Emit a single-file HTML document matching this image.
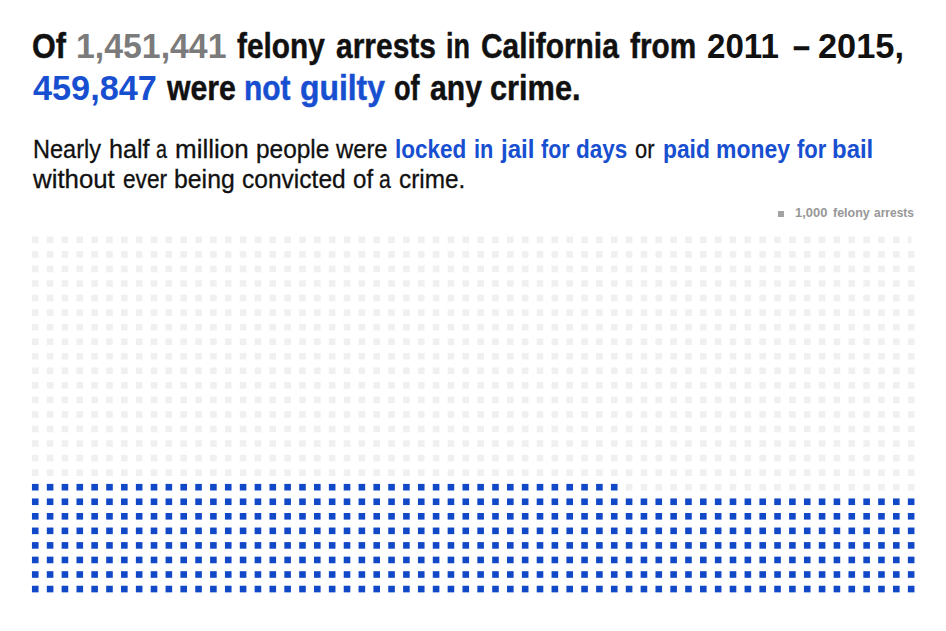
<!DOCTYPE html>
<html><head><meta charset="utf-8"><style>
html,body{margin:0;padding:0;background:#fff;}
body{width:946px;height:631px;position:relative;overflow:hidden;font-family:"Liberation Sans",sans-serif;}
.grid{position:absolute;left:0;top:0;}
span{position:absolute;white-space:nowrap;transform-origin:0 0;line-height:1;}
.h{font-weight:bold;font-size:33px;color:#111;}
.s{font-size:25px;color:#111;}
.g{color:#7c7c7c;}
.b{color:#1550cf;}
.sb{font-weight:bold;}
.leg{position:absolute;font-size:12px;font-weight:bold;color:#8a8a8a;white-space:nowrap;}
.sq{position:absolute;left:777.9px;top:210.6px;width:6.2px;height:6.2px;background:#a3a3a3;}
</style></head><body>
<svg class="grid" width="946" height="631" viewBox="0 0 946 631"><g fill="#f0f0f0"><rect x="31.95" y="236.55" width="6.60" height="6.60"/><rect x="46.80" y="236.55" width="6.60" height="6.60"/><rect x="61.64" y="236.55" width="6.60" height="6.60"/><rect x="76.49" y="236.55" width="6.60" height="6.60"/><rect x="91.33" y="236.55" width="6.60" height="6.60"/><rect x="106.18" y="236.55" width="6.60" height="6.60"/><rect x="121.03" y="236.55" width="6.60" height="6.60"/><rect x="135.87" y="236.55" width="6.60" height="6.60"/><rect x="150.72" y="236.55" width="6.60" height="6.60"/><rect x="165.56" y="236.55" width="6.60" height="6.60"/><rect x="180.41" y="236.55" width="6.60" height="6.60"/><rect x="195.26" y="236.55" width="6.60" height="6.60"/><rect x="210.10" y="236.55" width="6.60" height="6.60"/><rect x="224.95" y="236.55" width="6.60" height="6.60"/><rect x="239.79" y="236.55" width="6.60" height="6.60"/><rect x="254.64" y="236.55" width="6.60" height="6.60"/><rect x="269.49" y="236.55" width="6.60" height="6.60"/><rect x="284.33" y="236.55" width="6.60" height="6.60"/><rect x="299.18" y="236.55" width="6.60" height="6.60"/><rect x="314.02" y="236.55" width="6.60" height="6.60"/><rect x="328.87" y="236.55" width="6.60" height="6.60"/><rect x="343.72" y="236.55" width="6.60" height="6.60"/><rect x="358.56" y="236.55" width="6.60" height="6.60"/><rect x="373.41" y="236.55" width="6.60" height="6.60"/><rect x="388.25" y="236.55" width="6.60" height="6.60"/><rect x="403.10" y="236.55" width="6.60" height="6.60"/><rect x="417.95" y="236.55" width="6.60" height="6.60"/><rect x="432.79" y="236.55" width="6.60" height="6.60"/><rect x="447.64" y="236.55" width="6.60" height="6.60"/><rect x="462.48" y="236.55" width="6.60" height="6.60"/><rect x="477.33" y="236.55" width="6.60" height="6.60"/><rect x="492.18" y="236.55" width="6.60" height="6.60"/><rect x="507.02" y="236.55" width="6.60" height="6.60"/><rect x="521.87" y="236.55" width="6.60" height="6.60"/><rect x="536.71" y="236.55" width="6.60" height="6.60"/><rect x="551.56" y="236.55" width="6.60" height="6.60"/><rect x="566.41" y="236.55" width="6.60" height="6.60"/><rect x="581.25" y="236.55" width="6.60" height="6.60"/><rect x="596.10" y="236.55" width="6.60" height="6.60"/><rect x="610.94" y="236.55" width="6.60" height="6.60"/><rect x="625.79" y="236.55" width="6.60" height="6.60"/><rect x="640.64" y="236.55" width="6.60" height="6.60"/><rect x="655.48" y="236.55" width="6.60" height="6.60"/><rect x="670.33" y="236.55" width="6.60" height="6.60"/><rect x="685.17" y="236.55" width="6.60" height="6.60"/><rect x="700.02" y="236.55" width="6.60" height="6.60"/><rect x="714.87" y="236.55" width="6.60" height="6.60"/><rect x="729.71" y="236.55" width="6.60" height="6.60"/><rect x="744.56" y="236.55" width="6.60" height="6.60"/><rect x="759.40" y="236.55" width="6.60" height="6.60"/><rect x="774.25" y="236.55" width="6.60" height="6.60"/><rect x="789.10" y="236.55" width="6.60" height="6.60"/><rect x="803.94" y="236.55" width="6.60" height="6.60"/><rect x="818.79" y="236.55" width="6.60" height="6.60"/><rect x="833.63" y="236.55" width="6.60" height="6.60"/><rect x="848.48" y="236.55" width="6.60" height="6.60"/><rect x="863.33" y="236.55" width="6.60" height="6.60"/><rect x="878.17" y="236.55" width="6.60" height="6.60"/><rect x="893.02" y="236.55" width="6.60" height="6.60"/><rect x="907.86" y="236.55" width="3.63" height="6.60"/><rect x="31.95" y="251.10" width="6.60" height="6.60"/><rect x="46.80" y="251.10" width="6.60" height="6.60"/><rect x="61.64" y="251.10" width="6.60" height="6.60"/><rect x="76.49" y="251.10" width="6.60" height="6.60"/><rect x="91.33" y="251.10" width="6.60" height="6.60"/><rect x="106.18" y="251.10" width="6.60" height="6.60"/><rect x="121.03" y="251.10" width="6.60" height="6.60"/><rect x="135.87" y="251.10" width="6.60" height="6.60"/><rect x="150.72" y="251.10" width="6.60" height="6.60"/><rect x="165.56" y="251.10" width="6.60" height="6.60"/><rect x="180.41" y="251.10" width="6.60" height="6.60"/><rect x="195.26" y="251.10" width="6.60" height="6.60"/><rect x="210.10" y="251.10" width="6.60" height="6.60"/><rect x="224.95" y="251.10" width="6.60" height="6.60"/><rect x="239.79" y="251.10" width="6.60" height="6.60"/><rect x="254.64" y="251.10" width="6.60" height="6.60"/><rect x="269.49" y="251.10" width="6.60" height="6.60"/><rect x="284.33" y="251.10" width="6.60" height="6.60"/><rect x="299.18" y="251.10" width="6.60" height="6.60"/><rect x="314.02" y="251.10" width="6.60" height="6.60"/><rect x="328.87" y="251.10" width="6.60" height="6.60"/><rect x="343.72" y="251.10" width="6.60" height="6.60"/><rect x="358.56" y="251.10" width="6.60" height="6.60"/><rect x="373.41" y="251.10" width="6.60" height="6.60"/><rect x="388.25" y="251.10" width="6.60" height="6.60"/><rect x="403.10" y="251.10" width="6.60" height="6.60"/><rect x="417.95" y="251.10" width="6.60" height="6.60"/><rect x="432.79" y="251.10" width="6.60" height="6.60"/><rect x="447.64" y="251.10" width="6.60" height="6.60"/><rect x="462.48" y="251.10" width="6.60" height="6.60"/><rect x="477.33" y="251.10" width="6.60" height="6.60"/><rect x="492.18" y="251.10" width="6.60" height="6.60"/><rect x="507.02" y="251.10" width="6.60" height="6.60"/><rect x="521.87" y="251.10" width="6.60" height="6.60"/><rect x="536.71" y="251.10" width="6.60" height="6.60"/><rect x="551.56" y="251.10" width="6.60" height="6.60"/><rect x="566.41" y="251.10" width="6.60" height="6.60"/><rect x="581.25" y="251.10" width="6.60" height="6.60"/><rect x="596.10" y="251.10" width="6.60" height="6.60"/><rect x="610.94" y="251.10" width="6.60" height="6.60"/><rect x="625.79" y="251.10" width="6.60" height="6.60"/><rect x="640.64" y="251.10" width="6.60" height="6.60"/><rect x="655.48" y="251.10" width="6.60" height="6.60"/><rect x="670.33" y="251.10" width="6.60" height="6.60"/><rect x="685.17" y="251.10" width="6.60" height="6.60"/><rect x="700.02" y="251.10" width="6.60" height="6.60"/><rect x="714.87" y="251.10" width="6.60" height="6.60"/><rect x="729.71" y="251.10" width="6.60" height="6.60"/><rect x="744.56" y="251.10" width="6.60" height="6.60"/><rect x="759.40" y="251.10" width="6.60" height="6.60"/><rect x="774.25" y="251.10" width="6.60" height="6.60"/><rect x="789.10" y="251.10" width="6.60" height="6.60"/><rect x="803.94" y="251.10" width="6.60" height="6.60"/><rect x="818.79" y="251.10" width="6.60" height="6.60"/><rect x="833.63" y="251.10" width="6.60" height="6.60"/><rect x="848.48" y="251.10" width="6.60" height="6.60"/><rect x="863.33" y="251.10" width="6.60" height="6.60"/><rect x="878.17" y="251.10" width="6.60" height="6.60"/><rect x="893.02" y="251.10" width="6.60" height="6.60"/><rect x="907.86" y="251.10" width="6.60" height="6.60"/><rect x="31.95" y="265.65" width="6.60" height="6.60"/><rect x="46.80" y="265.65" width="6.60" height="6.60"/><rect x="61.64" y="265.65" width="6.60" height="6.60"/><rect x="76.49" y="265.65" width="6.60" height="6.60"/><rect x="91.33" y="265.65" width="6.60" height="6.60"/><rect x="106.18" y="265.65" width="6.60" height="6.60"/><rect x="121.03" y="265.65" width="6.60" height="6.60"/><rect x="135.87" y="265.65" width="6.60" height="6.60"/><rect x="150.72" y="265.65" width="6.60" height="6.60"/><rect x="165.56" y="265.65" width="6.60" height="6.60"/><rect x="180.41" y="265.65" width="6.60" height="6.60"/><rect x="195.26" y="265.65" width="6.60" height="6.60"/><rect x="210.10" y="265.65" width="6.60" height="6.60"/><rect x="224.95" y="265.65" width="6.60" height="6.60"/><rect x="239.79" y="265.65" width="6.60" height="6.60"/><rect x="254.64" y="265.65" width="6.60" height="6.60"/><rect x="269.49" y="265.65" width="6.60" height="6.60"/><rect x="284.33" y="265.65" width="6.60" height="6.60"/><rect x="299.18" y="265.65" width="6.60" height="6.60"/><rect x="314.02" y="265.65" width="6.60" height="6.60"/><rect x="328.87" y="265.65" width="6.60" height="6.60"/><rect x="343.72" y="265.65" width="6.60" height="6.60"/><rect x="358.56" y="265.65" width="6.60" height="6.60"/><rect x="373.41" y="265.65" width="6.60" height="6.60"/><rect x="388.25" y="265.65" width="6.60" height="6.60"/><rect x="403.10" y="265.65" width="6.60" height="6.60"/><rect x="417.95" y="265.65" width="6.60" height="6.60"/><rect x="432.79" y="265.65" width="6.60" height="6.60"/><rect x="447.64" y="265.65" width="6.60" height="6.60"/><rect x="462.48" y="265.65" width="6.60" height="6.60"/><rect x="477.33" y="265.65" width="6.60" height="6.60"/><rect x="492.18" y="265.65" width="6.60" height="6.60"/><rect x="507.02" y="265.65" width="6.60" height="6.60"/><rect x="521.87" y="265.65" width="6.60" height="6.60"/><rect x="536.71" y="265.65" width="6.60" height="6.60"/><rect x="551.56" y="265.65" width="6.60" height="6.60"/><rect x="566.41" y="265.65" width="6.60" height="6.60"/><rect x="581.25" y="265.65" width="6.60" height="6.60"/><rect x="596.10" y="265.65" width="6.60" height="6.60"/><rect x="610.94" y="265.65" width="6.60" height="6.60"/><rect x="625.79" y="265.65" width="6.60" height="6.60"/><rect x="640.64" y="265.65" width="6.60" height="6.60"/><rect x="655.48" y="265.65" width="6.60" height="6.60"/><rect x="670.33" y="265.65" width="6.60" height="6.60"/><rect x="685.17" y="265.65" width="6.60" height="6.60"/><rect x="700.02" y="265.65" width="6.60" height="6.60"/><rect x="714.87" y="265.65" width="6.60" height="6.60"/><rect x="729.71" y="265.65" width="6.60" height="6.60"/><rect x="744.56" y="265.65" width="6.60" height="6.60"/><rect x="759.40" y="265.65" width="6.60" height="6.60"/><rect x="774.25" y="265.65" width="6.60" height="6.60"/><rect x="789.10" y="265.65" width="6.60" height="6.60"/><rect x="803.94" y="265.65" width="6.60" height="6.60"/><rect x="818.79" y="265.65" width="6.60" height="6.60"/><rect x="833.63" y="265.65" width="6.60" height="6.60"/><rect x="848.48" y="265.65" width="6.60" height="6.60"/><rect x="863.33" y="265.65" width="6.60" height="6.60"/><rect x="878.17" y="265.65" width="6.60" height="6.60"/><rect x="893.02" y="265.65" width="6.60" height="6.60"/><rect x="907.86" y="265.65" width="6.60" height="6.60"/><rect x="31.95" y="280.20" width="6.60" height="6.60"/><rect x="46.80" y="280.20" width="6.60" height="6.60"/><rect x="61.64" y="280.20" width="6.60" height="6.60"/><rect x="76.49" y="280.20" width="6.60" height="6.60"/><rect x="91.33" y="280.20" width="6.60" height="6.60"/><rect x="106.18" y="280.20" width="6.60" height="6.60"/><rect x="121.03" y="280.20" width="6.60" height="6.60"/><rect x="135.87" y="280.20" width="6.60" height="6.60"/><rect x="150.72" y="280.20" width="6.60" height="6.60"/><rect x="165.56" y="280.20" width="6.60" height="6.60"/><rect x="180.41" y="280.20" width="6.60" height="6.60"/><rect x="195.26" y="280.20" width="6.60" height="6.60"/><rect x="210.10" y="280.20" width="6.60" height="6.60"/><rect x="224.95" y="280.20" width="6.60" height="6.60"/><rect x="239.79" y="280.20" width="6.60" height="6.60"/><rect x="254.64" y="280.20" width="6.60" height="6.60"/><rect x="269.49" y="280.20" width="6.60" height="6.60"/><rect x="284.33" y="280.20" width="6.60" height="6.60"/><rect x="299.18" y="280.20" width="6.60" height="6.60"/><rect x="314.02" y="280.20" width="6.60" height="6.60"/><rect x="328.87" y="280.20" width="6.60" height="6.60"/><rect x="343.72" y="280.20" width="6.60" height="6.60"/><rect x="358.56" y="280.20" width="6.60" height="6.60"/><rect x="373.41" y="280.20" width="6.60" height="6.60"/><rect x="388.25" y="280.20" width="6.60" height="6.60"/><rect x="403.10" y="280.20" width="6.60" height="6.60"/><rect x="417.95" y="280.20" width="6.60" height="6.60"/><rect x="432.79" y="280.20" width="6.60" height="6.60"/><rect x="447.64" y="280.20" width="6.60" height="6.60"/><rect x="462.48" y="280.20" width="6.60" height="6.60"/><rect x="477.33" y="280.20" width="6.60" height="6.60"/><rect x="492.18" y="280.20" width="6.60" height="6.60"/><rect x="507.02" y="280.20" width="6.60" height="6.60"/><rect x="521.87" y="280.20" width="6.60" height="6.60"/><rect x="536.71" y="280.20" width="6.60" height="6.60"/><rect x="551.56" y="280.20" width="6.60" height="6.60"/><rect x="566.41" y="280.20" width="6.60" height="6.60"/><rect x="581.25" y="280.20" width="6.60" height="6.60"/><rect x="596.10" y="280.20" width="6.60" height="6.60"/><rect x="610.94" y="280.20" width="6.60" height="6.60"/><rect x="625.79" y="280.20" width="6.60" height="6.60"/><rect x="640.64" y="280.20" width="6.60" height="6.60"/><rect x="655.48" y="280.20" width="6.60" height="6.60"/><rect x="670.33" y="280.20" width="6.60" height="6.60"/><rect x="685.17" y="280.20" width="6.60" height="6.60"/><rect x="700.02" y="280.20" width="6.60" height="6.60"/><rect x="714.87" y="280.20" width="6.60" height="6.60"/><rect x="729.71" y="280.20" width="6.60" height="6.60"/><rect x="744.56" y="280.20" width="6.60" height="6.60"/><rect x="759.40" y="280.20" width="6.60" height="6.60"/><rect x="774.25" y="280.20" width="6.60" height="6.60"/><rect x="789.10" y="280.20" width="6.60" height="6.60"/><rect x="803.94" y="280.20" width="6.60" height="6.60"/><rect x="818.79" y="280.20" width="6.60" height="6.60"/><rect x="833.63" y="280.20" width="6.60" height="6.60"/><rect x="848.48" y="280.20" width="6.60" height="6.60"/><rect x="863.33" y="280.20" width="6.60" height="6.60"/><rect x="878.17" y="280.20" width="6.60" height="6.60"/><rect x="893.02" y="280.20" width="6.60" height="6.60"/><rect x="907.86" y="280.20" width="6.60" height="6.60"/><rect x="31.95" y="294.75" width="6.60" height="6.60"/><rect x="46.80" y="294.75" width="6.60" height="6.60"/><rect x="61.64" y="294.75" width="6.60" height="6.60"/><rect x="76.49" y="294.75" width="6.60" height="6.60"/><rect x="91.33" y="294.75" width="6.60" height="6.60"/><rect x="106.18" y="294.75" width="6.60" height="6.60"/><rect x="121.03" y="294.75" width="6.60" height="6.60"/><rect x="135.87" y="294.75" width="6.60" height="6.60"/><rect x="150.72" y="294.75" width="6.60" height="6.60"/><rect x="165.56" y="294.75" width="6.60" height="6.60"/><rect x="180.41" y="294.75" width="6.60" height="6.60"/><rect x="195.26" y="294.75" width="6.60" height="6.60"/><rect x="210.10" y="294.75" width="6.60" height="6.60"/><rect x="224.95" y="294.75" width="6.60" height="6.60"/><rect x="239.79" y="294.75" width="6.60" height="6.60"/><rect x="254.64" y="294.75" width="6.60" height="6.60"/><rect x="269.49" y="294.75" width="6.60" height="6.60"/><rect x="284.33" y="294.75" width="6.60" height="6.60"/><rect x="299.18" y="294.75" width="6.60" height="6.60"/><rect x="314.02" y="294.75" width="6.60" height="6.60"/><rect x="328.87" y="294.75" width="6.60" height="6.60"/><rect x="343.72" y="294.75" width="6.60" height="6.60"/><rect x="358.56" y="294.75" width="6.60" height="6.60"/><rect x="373.41" y="294.75" width="6.60" height="6.60"/><rect x="388.25" y="294.75" width="6.60" height="6.60"/><rect x="403.10" y="294.75" width="6.60" height="6.60"/><rect x="417.95" y="294.75" width="6.60" height="6.60"/><rect x="432.79" y="294.75" width="6.60" height="6.60"/><rect x="447.64" y="294.75" width="6.60" height="6.60"/><rect x="462.48" y="294.75" width="6.60" height="6.60"/><rect x="477.33" y="294.75" width="6.60" height="6.60"/><rect x="492.18" y="294.75" width="6.60" height="6.60"/><rect x="507.02" y="294.75" width="6.60" height="6.60"/><rect x="521.87" y="294.75" width="6.60" height="6.60"/><rect x="536.71" y="294.75" width="6.60" height="6.60"/><rect x="551.56" y="294.75" width="6.60" height="6.60"/><rect x="566.41" y="294.75" width="6.60" height="6.60"/><rect x="581.25" y="294.75" width="6.60" height="6.60"/><rect x="596.10" y="294.75" width="6.60" height="6.60"/><rect x="610.94" y="294.75" width="6.60" height="6.60"/><rect x="625.79" y="294.75" width="6.60" height="6.60"/><rect x="640.64" y="294.75" width="6.60" height="6.60"/><rect x="655.48" y="294.75" width="6.60" height="6.60"/><rect x="670.33" y="294.75" width="6.60" height="6.60"/><rect x="685.17" y="294.75" width="6.60" height="6.60"/><rect x="700.02" y="294.75" width="6.60" height="6.60"/><rect x="714.87" y="294.75" width="6.60" height="6.60"/><rect x="729.71" y="294.75" width="6.60" height="6.60"/><rect x="744.56" y="294.75" width="6.60" height="6.60"/><rect x="759.40" y="294.75" width="6.60" height="6.60"/><rect x="774.25" y="294.75" width="6.60" height="6.60"/><rect x="789.10" y="294.75" width="6.60" height="6.60"/><rect x="803.94" y="294.75" width="6.60" height="6.60"/><rect x="818.79" y="294.75" width="6.60" height="6.60"/><rect x="833.63" y="294.75" width="6.60" height="6.60"/><rect x="848.48" y="294.75" width="6.60" height="6.60"/><rect x="863.33" y="294.75" width="6.60" height="6.60"/><rect x="878.17" y="294.75" width="6.60" height="6.60"/><rect x="893.02" y="294.75" width="6.60" height="6.60"/><rect x="907.86" y="294.75" width="6.60" height="6.60"/><rect x="31.95" y="309.30" width="6.60" height="6.60"/><rect x="46.80" y="309.30" width="6.60" height="6.60"/><rect x="61.64" y="309.30" width="6.60" height="6.60"/><rect x="76.49" y="309.30" width="6.60" height="6.60"/><rect x="91.33" y="309.30" width="6.60" height="6.60"/><rect x="106.18" y="309.30" width="6.60" height="6.60"/><rect x="121.03" y="309.30" width="6.60" height="6.60"/><rect x="135.87" y="309.30" width="6.60" height="6.60"/><rect x="150.72" y="309.30" width="6.60" height="6.60"/><rect x="165.56" y="309.30" width="6.60" height="6.60"/><rect x="180.41" y="309.30" width="6.60" height="6.60"/><rect x="195.26" y="309.30" width="6.60" height="6.60"/><rect x="210.10" y="309.30" width="6.60" height="6.60"/><rect x="224.95" y="309.30" width="6.60" height="6.60"/><rect x="239.79" y="309.30" width="6.60" height="6.60"/><rect x="254.64" y="309.30" width="6.60" height="6.60"/><rect x="269.49" y="309.30" width="6.60" height="6.60"/><rect x="284.33" y="309.30" width="6.60" height="6.60"/><rect x="299.18" y="309.30" width="6.60" height="6.60"/><rect x="314.02" y="309.30" width="6.60" height="6.60"/><rect x="328.87" y="309.30" width="6.60" height="6.60"/><rect x="343.72" y="309.30" width="6.60" height="6.60"/><rect x="358.56" y="309.30" width="6.60" height="6.60"/><rect x="373.41" y="309.30" width="6.60" height="6.60"/><rect x="388.25" y="309.30" width="6.60" height="6.60"/><rect x="403.10" y="309.30" width="6.60" height="6.60"/><rect x="417.95" y="309.30" width="6.60" height="6.60"/><rect x="432.79" y="309.30" width="6.60" height="6.60"/><rect x="447.64" y="309.30" width="6.60" height="6.60"/><rect x="462.48" y="309.30" width="6.60" height="6.60"/><rect x="477.33" y="309.30" width="6.60" height="6.60"/><rect x="492.18" y="309.30" width="6.60" height="6.60"/><rect x="507.02" y="309.30" width="6.60" height="6.60"/><rect x="521.87" y="309.30" width="6.60" height="6.60"/><rect x="536.71" y="309.30" width="6.60" height="6.60"/><rect x="551.56" y="309.30" width="6.60" height="6.60"/><rect x="566.41" y="309.30" width="6.60" height="6.60"/><rect x="581.25" y="309.30" width="6.60" height="6.60"/><rect x="596.10" y="309.30" width="6.60" height="6.60"/><rect x="610.94" y="309.30" width="6.60" height="6.60"/><rect x="625.79" y="309.30" width="6.60" height="6.60"/><rect x="640.64" y="309.30" width="6.60" height="6.60"/><rect x="655.48" y="309.30" width="6.60" height="6.60"/><rect x="670.33" y="309.30" width="6.60" height="6.60"/><rect x="685.17" y="309.30" width="6.60" height="6.60"/><rect x="700.02" y="309.30" width="6.60" height="6.60"/><rect x="714.87" y="309.30" width="6.60" height="6.60"/><rect x="729.71" y="309.30" width="6.60" height="6.60"/><rect x="744.56" y="309.30" width="6.60" height="6.60"/><rect x="759.40" y="309.30" width="6.60" height="6.60"/><rect x="774.25" y="309.30" width="6.60" height="6.60"/><rect x="789.10" y="309.30" width="6.60" height="6.60"/><rect x="803.94" y="309.30" width="6.60" height="6.60"/><rect x="818.79" y="309.30" width="6.60" height="6.60"/><rect x="833.63" y="309.30" width="6.60" height="6.60"/><rect x="848.48" y="309.30" width="6.60" height="6.60"/><rect x="863.33" y="309.30" width="6.60" height="6.60"/><rect x="878.17" y="309.30" width="6.60" height="6.60"/><rect x="893.02" y="309.30" width="6.60" height="6.60"/><rect x="907.86" y="309.30" width="6.60" height="6.60"/><rect x="31.95" y="323.85" width="6.60" height="6.60"/><rect x="46.80" y="323.85" width="6.60" height="6.60"/><rect x="61.64" y="323.85" width="6.60" height="6.60"/><rect x="76.49" y="323.85" width="6.60" height="6.60"/><rect x="91.33" y="323.85" width="6.60" height="6.60"/><rect x="106.18" y="323.85" width="6.60" height="6.60"/><rect x="121.03" y="323.85" width="6.60" height="6.60"/><rect x="135.87" y="323.85" width="6.60" height="6.60"/><rect x="150.72" y="323.85" width="6.60" height="6.60"/><rect x="165.56" y="323.85" width="6.60" height="6.60"/><rect x="180.41" y="323.85" width="6.60" height="6.60"/><rect x="195.26" y="323.85" width="6.60" height="6.60"/><rect x="210.10" y="323.85" width="6.60" height="6.60"/><rect x="224.95" y="323.85" width="6.60" height="6.60"/><rect x="239.79" y="323.85" width="6.60" height="6.60"/><rect x="254.64" y="323.85" width="6.60" height="6.60"/><rect x="269.49" y="323.85" width="6.60" height="6.60"/><rect x="284.33" y="323.85" width="6.60" height="6.60"/><rect x="299.18" y="323.85" width="6.60" height="6.60"/><rect x="314.02" y="323.85" width="6.60" height="6.60"/><rect x="328.87" y="323.85" width="6.60" height="6.60"/><rect x="343.72" y="323.85" width="6.60" height="6.60"/><rect x="358.56" y="323.85" width="6.60" height="6.60"/><rect x="373.41" y="323.85" width="6.60" height="6.60"/><rect x="388.25" y="323.85" width="6.60" height="6.60"/><rect x="403.10" y="323.85" width="6.60" height="6.60"/><rect x="417.95" y="323.85" width="6.60" height="6.60"/><rect x="432.79" y="323.85" width="6.60" height="6.60"/><rect x="447.64" y="323.85" width="6.60" height="6.60"/><rect x="462.48" y="323.85" width="6.60" height="6.60"/><rect x="477.33" y="323.85" width="6.60" height="6.60"/><rect x="492.18" y="323.85" width="6.60" height="6.60"/><rect x="507.02" y="323.85" width="6.60" height="6.60"/><rect x="521.87" y="323.85" width="6.60" height="6.60"/><rect x="536.71" y="323.85" width="6.60" height="6.60"/><rect x="551.56" y="323.85" width="6.60" height="6.60"/><rect x="566.41" y="323.85" width="6.60" height="6.60"/><rect x="581.25" y="323.85" width="6.60" height="6.60"/><rect x="596.10" y="323.85" width="6.60" height="6.60"/><rect x="610.94" y="323.85" width="6.60" height="6.60"/><rect x="625.79" y="323.85" width="6.60" height="6.60"/><rect x="640.64" y="323.85" width="6.60" height="6.60"/><rect x="655.48" y="323.85" width="6.60" height="6.60"/><rect x="670.33" y="323.85" width="6.60" height="6.60"/><rect x="685.17" y="323.85" width="6.60" height="6.60"/><rect x="700.02" y="323.85" width="6.60" height="6.60"/><rect x="714.87" y="323.85" width="6.60" height="6.60"/><rect x="729.71" y="323.85" width="6.60" height="6.60"/><rect x="744.56" y="323.85" width="6.60" height="6.60"/><rect x="759.40" y="323.85" width="6.60" height="6.60"/><rect x="774.25" y="323.85" width="6.60" height="6.60"/><rect x="789.10" y="323.85" width="6.60" height="6.60"/><rect x="803.94" y="323.85" width="6.60" height="6.60"/><rect x="818.79" y="323.85" width="6.60" height="6.60"/><rect x="833.63" y="323.85" width="6.60" height="6.60"/><rect x="848.48" y="323.85" width="6.60" height="6.60"/><rect x="863.33" y="323.85" width="6.60" height="6.60"/><rect x="878.17" y="323.85" width="6.60" height="6.60"/><rect x="893.02" y="323.85" width="6.60" height="6.60"/><rect x="907.86" y="323.85" width="6.60" height="6.60"/><rect x="31.95" y="338.40" width="6.60" height="6.60"/><rect x="46.80" y="338.40" width="6.60" height="6.60"/><rect x="61.64" y="338.40" width="6.60" height="6.60"/><rect x="76.49" y="338.40" width="6.60" height="6.60"/><rect x="91.33" y="338.40" width="6.60" height="6.60"/><rect x="106.18" y="338.40" width="6.60" height="6.60"/><rect x="121.03" y="338.40" width="6.60" height="6.60"/><rect x="135.87" y="338.40" width="6.60" height="6.60"/><rect x="150.72" y="338.40" width="6.60" height="6.60"/><rect x="165.56" y="338.40" width="6.60" height="6.60"/><rect x="180.41" y="338.40" width="6.60" height="6.60"/><rect x="195.26" y="338.40" width="6.60" height="6.60"/><rect x="210.10" y="338.40" width="6.60" height="6.60"/><rect x="224.95" y="338.40" width="6.60" height="6.60"/><rect x="239.79" y="338.40" width="6.60" height="6.60"/><rect x="254.64" y="338.40" width="6.60" height="6.60"/><rect x="269.49" y="338.40" width="6.60" height="6.60"/><rect x="284.33" y="338.40" width="6.60" height="6.60"/><rect x="299.18" y="338.40" width="6.60" height="6.60"/><rect x="314.02" y="338.40" width="6.60" height="6.60"/><rect x="328.87" y="338.40" width="6.60" height="6.60"/><rect x="343.72" y="338.40" width="6.60" height="6.60"/><rect x="358.56" y="338.40" width="6.60" height="6.60"/><rect x="373.41" y="338.40" width="6.60" height="6.60"/><rect x="388.25" y="338.40" width="6.60" height="6.60"/><rect x="403.10" y="338.40" width="6.60" height="6.60"/><rect x="417.95" y="338.40" width="6.60" height="6.60"/><rect x="432.79" y="338.40" width="6.60" height="6.60"/><rect x="447.64" y="338.40" width="6.60" height="6.60"/><rect x="462.48" y="338.40" width="6.60" height="6.60"/><rect x="477.33" y="338.40" width="6.60" height="6.60"/><rect x="492.18" y="338.40" width="6.60" height="6.60"/><rect x="507.02" y="338.40" width="6.60" height="6.60"/><rect x="521.87" y="338.40" width="6.60" height="6.60"/><rect x="536.71" y="338.40" width="6.60" height="6.60"/><rect x="551.56" y="338.40" width="6.60" height="6.60"/><rect x="566.41" y="338.40" width="6.60" height="6.60"/><rect x="581.25" y="338.40" width="6.60" height="6.60"/><rect x="596.10" y="338.40" width="6.60" height="6.60"/><rect x="610.94" y="338.40" width="6.60" height="6.60"/><rect x="625.79" y="338.40" width="6.60" height="6.60"/><rect x="640.64" y="338.40" width="6.60" height="6.60"/><rect x="655.48" y="338.40" width="6.60" height="6.60"/><rect x="670.33" y="338.40" width="6.60" height="6.60"/><rect x="685.17" y="338.40" width="6.60" height="6.60"/><rect x="700.02" y="338.40" width="6.60" height="6.60"/><rect x="714.87" y="338.40" width="6.60" height="6.60"/><rect x="729.71" y="338.40" width="6.60" height="6.60"/><rect x="744.56" y="338.40" width="6.60" height="6.60"/><rect x="759.40" y="338.40" width="6.60" height="6.60"/><rect x="774.25" y="338.40" width="6.60" height="6.60"/><rect x="789.10" y="338.40" width="6.60" height="6.60"/><rect x="803.94" y="338.40" width="6.60" height="6.60"/><rect x="818.79" y="338.40" width="6.60" height="6.60"/><rect x="833.63" y="338.40" width="6.60" height="6.60"/><rect x="848.48" y="338.40" width="6.60" height="6.60"/><rect x="863.33" y="338.40" width="6.60" height="6.60"/><rect x="878.17" y="338.40" width="6.60" height="6.60"/><rect x="893.02" y="338.40" width="6.60" height="6.60"/><rect x="907.86" y="338.40" width="6.60" height="6.60"/><rect x="31.95" y="352.95" width="6.60" height="6.60"/><rect x="46.80" y="352.95" width="6.60" height="6.60"/><rect x="61.64" y="352.95" width="6.60" height="6.60"/><rect x="76.49" y="352.95" width="6.60" height="6.60"/><rect x="91.33" y="352.95" width="6.60" height="6.60"/><rect x="106.18" y="352.95" width="6.60" height="6.60"/><rect x="121.03" y="352.95" width="6.60" height="6.60"/><rect x="135.87" y="352.95" width="6.60" height="6.60"/><rect x="150.72" y="352.95" width="6.60" height="6.60"/><rect x="165.56" y="352.95" width="6.60" height="6.60"/><rect x="180.41" y="352.95" width="6.60" height="6.60"/><rect x="195.26" y="352.95" width="6.60" height="6.60"/><rect x="210.10" y="352.95" width="6.60" height="6.60"/><rect x="224.95" y="352.95" width="6.60" height="6.60"/><rect x="239.79" y="352.95" width="6.60" height="6.60"/><rect x="254.64" y="352.95" width="6.60" height="6.60"/><rect x="269.49" y="352.95" width="6.60" height="6.60"/><rect x="284.33" y="352.95" width="6.60" height="6.60"/><rect x="299.18" y="352.95" width="6.60" height="6.60"/><rect x="314.02" y="352.95" width="6.60" height="6.60"/><rect x="328.87" y="352.95" width="6.60" height="6.60"/><rect x="343.72" y="352.95" width="6.60" height="6.60"/><rect x="358.56" y="352.95" width="6.60" height="6.60"/><rect x="373.41" y="352.95" width="6.60" height="6.60"/><rect x="388.25" y="352.95" width="6.60" height="6.60"/><rect x="403.10" y="352.95" width="6.60" height="6.60"/><rect x="417.95" y="352.95" width="6.60" height="6.60"/><rect x="432.79" y="352.95" width="6.60" height="6.60"/><rect x="447.64" y="352.95" width="6.60" height="6.60"/><rect x="462.48" y="352.95" width="6.60" height="6.60"/><rect x="477.33" y="352.95" width="6.60" height="6.60"/><rect x="492.18" y="352.95" width="6.60" height="6.60"/><rect x="507.02" y="352.95" width="6.60" height="6.60"/><rect x="521.87" y="352.95" width="6.60" height="6.60"/><rect x="536.71" y="352.95" width="6.60" height="6.60"/><rect x="551.56" y="352.95" width="6.60" height="6.60"/><rect x="566.41" y="352.95" width="6.60" height="6.60"/><rect x="581.25" y="352.95" width="6.60" height="6.60"/><rect x="596.10" y="352.95" width="6.60" height="6.60"/><rect x="610.94" y="352.95" width="6.60" height="6.60"/><rect x="625.79" y="352.95" width="6.60" height="6.60"/><rect x="640.64" y="352.95" width="6.60" height="6.60"/><rect x="655.48" y="352.95" width="6.60" height="6.60"/><rect x="670.33" y="352.95" width="6.60" height="6.60"/><rect x="685.17" y="352.95" width="6.60" height="6.60"/><rect x="700.02" y="352.95" width="6.60" height="6.60"/><rect x="714.87" y="352.95" width="6.60" height="6.60"/><rect x="729.71" y="352.95" width="6.60" height="6.60"/><rect x="744.56" y="352.95" width="6.60" height="6.60"/><rect x="759.40" y="352.95" width="6.60" height="6.60"/><rect x="774.25" y="352.95" width="6.60" height="6.60"/><rect x="789.10" y="352.95" width="6.60" height="6.60"/><rect x="803.94" y="352.95" width="6.60" height="6.60"/><rect x="818.79" y="352.95" width="6.60" height="6.60"/><rect x="833.63" y="352.95" width="6.60" height="6.60"/><rect x="848.48" y="352.95" width="6.60" height="6.60"/><rect x="863.33" y="352.95" width="6.60" height="6.60"/><rect x="878.17" y="352.95" width="6.60" height="6.60"/><rect x="893.02" y="352.95" width="6.60" height="6.60"/><rect x="907.86" y="352.95" width="6.60" height="6.60"/><rect x="31.95" y="367.50" width="6.60" height="6.60"/><rect x="46.80" y="367.50" width="6.60" height="6.60"/><rect x="61.64" y="367.50" width="6.60" height="6.60"/><rect x="76.49" y="367.50" width="6.60" height="6.60"/><rect x="91.33" y="367.50" width="6.60" height="6.60"/><rect x="106.18" y="367.50" width="6.60" height="6.60"/><rect x="121.03" y="367.50" width="6.60" height="6.60"/><rect x="135.87" y="367.50" width="6.60" height="6.60"/><rect x="150.72" y="367.50" width="6.60" height="6.60"/><rect x="165.56" y="367.50" width="6.60" height="6.60"/><rect x="180.41" y="367.50" width="6.60" height="6.60"/><rect x="195.26" y="367.50" width="6.60" height="6.60"/><rect x="210.10" y="367.50" width="6.60" height="6.60"/><rect x="224.95" y="367.50" width="6.60" height="6.60"/><rect x="239.79" y="367.50" width="6.60" height="6.60"/><rect x="254.64" y="367.50" width="6.60" height="6.60"/><rect x="269.49" y="367.50" width="6.60" height="6.60"/><rect x="284.33" y="367.50" width="6.60" height="6.60"/><rect x="299.18" y="367.50" width="6.60" height="6.60"/><rect x="314.02" y="367.50" width="6.60" height="6.60"/><rect x="328.87" y="367.50" width="6.60" height="6.60"/><rect x="343.72" y="367.50" width="6.60" height="6.60"/><rect x="358.56" y="367.50" width="6.60" height="6.60"/><rect x="373.41" y="367.50" width="6.60" height="6.60"/><rect x="388.25" y="367.50" width="6.60" height="6.60"/><rect x="403.10" y="367.50" width="6.60" height="6.60"/><rect x="417.95" y="367.50" width="6.60" height="6.60"/><rect x="432.79" y="367.50" width="6.60" height="6.60"/><rect x="447.64" y="367.50" width="6.60" height="6.60"/><rect x="462.48" y="367.50" width="6.60" height="6.60"/><rect x="477.33" y="367.50" width="6.60" height="6.60"/><rect x="492.18" y="367.50" width="6.60" height="6.60"/><rect x="507.02" y="367.50" width="6.60" height="6.60"/><rect x="521.87" y="367.50" width="6.60" height="6.60"/><rect x="536.71" y="367.50" width="6.60" height="6.60"/><rect x="551.56" y="367.50" width="6.60" height="6.60"/><rect x="566.41" y="367.50" width="6.60" height="6.60"/><rect x="581.25" y="367.50" width="6.60" height="6.60"/><rect x="596.10" y="367.50" width="6.60" height="6.60"/><rect x="610.94" y="367.50" width="6.60" height="6.60"/><rect x="625.79" y="367.50" width="6.60" height="6.60"/><rect x="640.64" y="367.50" width="6.60" height="6.60"/><rect x="655.48" y="367.50" width="6.60" height="6.60"/><rect x="670.33" y="367.50" width="6.60" height="6.60"/><rect x="685.17" y="367.50" width="6.60" height="6.60"/><rect x="700.02" y="367.50" width="6.60" height="6.60"/><rect x="714.87" y="367.50" width="6.60" height="6.60"/><rect x="729.71" y="367.50" width="6.60" height="6.60"/><rect x="744.56" y="367.50" width="6.60" height="6.60"/><rect x="759.40" y="367.50" width="6.60" height="6.60"/><rect x="774.25" y="367.50" width="6.60" height="6.60"/><rect x="789.10" y="367.50" width="6.60" height="6.60"/><rect x="803.94" y="367.50" width="6.60" height="6.60"/><rect x="818.79" y="367.50" width="6.60" height="6.60"/><rect x="833.63" y="367.50" width="6.60" height="6.60"/><rect x="848.48" y="367.50" width="6.60" height="6.60"/><rect x="863.33" y="367.50" width="6.60" height="6.60"/><rect x="878.17" y="367.50" width="6.60" height="6.60"/><rect x="893.02" y="367.50" width="6.60" height="6.60"/><rect x="907.86" y="367.50" width="6.60" height="6.60"/><rect x="31.95" y="382.05" width="6.60" height="6.60"/><rect x="46.80" y="382.05" width="6.60" height="6.60"/><rect x="61.64" y="382.05" width="6.60" height="6.60"/><rect x="76.49" y="382.05" width="6.60" height="6.60"/><rect x="91.33" y="382.05" width="6.60" height="6.60"/><rect x="106.18" y="382.05" width="6.60" height="6.60"/><rect x="121.03" y="382.05" width="6.60" height="6.60"/><rect x="135.87" y="382.05" width="6.60" height="6.60"/><rect x="150.72" y="382.05" width="6.60" height="6.60"/><rect x="165.56" y="382.05" width="6.60" height="6.60"/><rect x="180.41" y="382.05" width="6.60" height="6.60"/><rect x="195.26" y="382.05" width="6.60" height="6.60"/><rect x="210.10" y="382.05" width="6.60" height="6.60"/><rect x="224.95" y="382.05" width="6.60" height="6.60"/><rect x="239.79" y="382.05" width="6.60" height="6.60"/><rect x="254.64" y="382.05" width="6.60" height="6.60"/><rect x="269.49" y="382.05" width="6.60" height="6.60"/><rect x="284.33" y="382.05" width="6.60" height="6.60"/><rect x="299.18" y="382.05" width="6.60" height="6.60"/><rect x="314.02" y="382.05" width="6.60" height="6.60"/><rect x="328.87" y="382.05" width="6.60" height="6.60"/><rect x="343.72" y="382.05" width="6.60" height="6.60"/><rect x="358.56" y="382.05" width="6.60" height="6.60"/><rect x="373.41" y="382.05" width="6.60" height="6.60"/><rect x="388.25" y="382.05" width="6.60" height="6.60"/><rect x="403.10" y="382.05" width="6.60" height="6.60"/><rect x="417.95" y="382.05" width="6.60" height="6.60"/><rect x="432.79" y="382.05" width="6.60" height="6.60"/><rect x="447.64" y="382.05" width="6.60" height="6.60"/><rect x="462.48" y="382.05" width="6.60" height="6.60"/><rect x="477.33" y="382.05" width="6.60" height="6.60"/><rect x="492.18" y="382.05" width="6.60" height="6.60"/><rect x="507.02" y="382.05" width="6.60" height="6.60"/><rect x="521.87" y="382.05" width="6.60" height="6.60"/><rect x="536.71" y="382.05" width="6.60" height="6.60"/><rect x="551.56" y="382.05" width="6.60" height="6.60"/><rect x="566.41" y="382.05" width="6.60" height="6.60"/><rect x="581.25" y="382.05" width="6.60" height="6.60"/><rect x="596.10" y="382.05" width="6.60" height="6.60"/><rect x="610.94" y="382.05" width="6.60" height="6.60"/><rect x="625.79" y="382.05" width="6.60" height="6.60"/><rect x="640.64" y="382.05" width="6.60" height="6.60"/><rect x="655.48" y="382.05" width="6.60" height="6.60"/><rect x="670.33" y="382.05" width="6.60" height="6.60"/><rect x="685.17" y="382.05" width="6.60" height="6.60"/><rect x="700.02" y="382.05" width="6.60" height="6.60"/><rect x="714.87" y="382.05" width="6.60" height="6.60"/><rect x="729.71" y="382.05" width="6.60" height="6.60"/><rect x="744.56" y="382.05" width="6.60" height="6.60"/><rect x="759.40" y="382.05" width="6.60" height="6.60"/><rect x="774.25" y="382.05" width="6.60" height="6.60"/><rect x="789.10" y="382.05" width="6.60" height="6.60"/><rect x="803.94" y="382.05" width="6.60" height="6.60"/><rect x="818.79" y="382.05" width="6.60" height="6.60"/><rect x="833.63" y="382.05" width="6.60" height="6.60"/><rect x="848.48" y="382.05" width="6.60" height="6.60"/><rect x="863.33" y="382.05" width="6.60" height="6.60"/><rect x="878.17" y="382.05" width="6.60" height="6.60"/><rect x="893.02" y="382.05" width="6.60" height="6.60"/><rect x="907.86" y="382.05" width="6.60" height="6.60"/><rect x="31.95" y="396.60" width="6.60" height="6.60"/><rect x="46.80" y="396.60" width="6.60" height="6.60"/><rect x="61.64" y="396.60" width="6.60" height="6.60"/><rect x="76.49" y="396.60" width="6.60" height="6.60"/><rect x="91.33" y="396.60" width="6.60" height="6.60"/><rect x="106.18" y="396.60" width="6.60" height="6.60"/><rect x="121.03" y="396.60" width="6.60" height="6.60"/><rect x="135.87" y="396.60" width="6.60" height="6.60"/><rect x="150.72" y="396.60" width="6.60" height="6.60"/><rect x="165.56" y="396.60" width="6.60" height="6.60"/><rect x="180.41" y="396.60" width="6.60" height="6.60"/><rect x="195.26" y="396.60" width="6.60" height="6.60"/><rect x="210.10" y="396.60" width="6.60" height="6.60"/><rect x="224.95" y="396.60" width="6.60" height="6.60"/><rect x="239.79" y="396.60" width="6.60" height="6.60"/><rect x="254.64" y="396.60" width="6.60" height="6.60"/><rect x="269.49" y="396.60" width="6.60" height="6.60"/><rect x="284.33" y="396.60" width="6.60" height="6.60"/><rect x="299.18" y="396.60" width="6.60" height="6.60"/><rect x="314.02" y="396.60" width="6.60" height="6.60"/><rect x="328.87" y="396.60" width="6.60" height="6.60"/><rect x="343.72" y="396.60" width="6.60" height="6.60"/><rect x="358.56" y="396.60" width="6.60" height="6.60"/><rect x="373.41" y="396.60" width="6.60" height="6.60"/><rect x="388.25" y="396.60" width="6.60" height="6.60"/><rect x="403.10" y="396.60" width="6.60" height="6.60"/><rect x="417.95" y="396.60" width="6.60" height="6.60"/><rect x="432.79" y="396.60" width="6.60" height="6.60"/><rect x="447.64" y="396.60" width="6.60" height="6.60"/><rect x="462.48" y="396.60" width="6.60" height="6.60"/><rect x="477.33" y="396.60" width="6.60" height="6.60"/><rect x="492.18" y="396.60" width="6.60" height="6.60"/><rect x="507.02" y="396.60" width="6.60" height="6.60"/><rect x="521.87" y="396.60" width="6.60" height="6.60"/><rect x="536.71" y="396.60" width="6.60" height="6.60"/><rect x="551.56" y="396.60" width="6.60" height="6.60"/><rect x="566.41" y="396.60" width="6.60" height="6.60"/><rect x="581.25" y="396.60" width="6.60" height="6.60"/><rect x="596.10" y="396.60" width="6.60" height="6.60"/><rect x="610.94" y="396.60" width="6.60" height="6.60"/><rect x="625.79" y="396.60" width="6.60" height="6.60"/><rect x="640.64" y="396.60" width="6.60" height="6.60"/><rect x="655.48" y="396.60" width="6.60" height="6.60"/><rect x="670.33" y="396.60" width="6.60" height="6.60"/><rect x="685.17" y="396.60" width="6.60" height="6.60"/><rect x="700.02" y="396.60" width="6.60" height="6.60"/><rect x="714.87" y="396.60" width="6.60" height="6.60"/><rect x="729.71" y="396.60" width="6.60" height="6.60"/><rect x="744.56" y="396.60" width="6.60" height="6.60"/><rect x="759.40" y="396.60" width="6.60" height="6.60"/><rect x="774.25" y="396.60" width="6.60" height="6.60"/><rect x="789.10" y="396.60" width="6.60" height="6.60"/><rect x="803.94" y="396.60" width="6.60" height="6.60"/><rect x="818.79" y="396.60" width="6.60" height="6.60"/><rect x="833.63" y="396.60" width="6.60" height="6.60"/><rect x="848.48" y="396.60" width="6.60" height="6.60"/><rect x="863.33" y="396.60" width="6.60" height="6.60"/><rect x="878.17" y="396.60" width="6.60" height="6.60"/><rect x="893.02" y="396.60" width="6.60" height="6.60"/><rect x="907.86" y="396.60" width="6.60" height="6.60"/><rect x="31.95" y="411.15" width="6.60" height="6.60"/><rect x="46.80" y="411.15" width="6.60" height="6.60"/><rect x="61.64" y="411.15" width="6.60" height="6.60"/><rect x="76.49" y="411.15" width="6.60" height="6.60"/><rect x="91.33" y="411.15" width="6.60" height="6.60"/><rect x="106.18" y="411.15" width="6.60" height="6.60"/><rect x="121.03" y="411.15" width="6.60" height="6.60"/><rect x="135.87" y="411.15" width="6.60" height="6.60"/><rect x="150.72" y="411.15" width="6.60" height="6.60"/><rect x="165.56" y="411.15" width="6.60" height="6.60"/><rect x="180.41" y="411.15" width="6.60" height="6.60"/><rect x="195.26" y="411.15" width="6.60" height="6.60"/><rect x="210.10" y="411.15" width="6.60" height="6.60"/><rect x="224.95" y="411.15" width="6.60" height="6.60"/><rect x="239.79" y="411.15" width="6.60" height="6.60"/><rect x="254.64" y="411.15" width="6.60" height="6.60"/><rect x="269.49" y="411.15" width="6.60" height="6.60"/><rect x="284.33" y="411.15" width="6.60" height="6.60"/><rect x="299.18" y="411.15" width="6.60" height="6.60"/><rect x="314.02" y="411.15" width="6.60" height="6.60"/><rect x="328.87" y="411.15" width="6.60" height="6.60"/><rect x="343.72" y="411.15" width="6.60" height="6.60"/><rect x="358.56" y="411.15" width="6.60" height="6.60"/><rect x="373.41" y="411.15" width="6.60" height="6.60"/><rect x="388.25" y="411.15" width="6.60" height="6.60"/><rect x="403.10" y="411.15" width="6.60" height="6.60"/><rect x="417.95" y="411.15" width="6.60" height="6.60"/><rect x="432.79" y="411.15" width="6.60" height="6.60"/><rect x="447.64" y="411.15" width="6.60" height="6.60"/><rect x="462.48" y="411.15" width="6.60" height="6.60"/><rect x="477.33" y="411.15" width="6.60" height="6.60"/><rect x="492.18" y="411.15" width="6.60" height="6.60"/><rect x="507.02" y="411.15" width="6.60" height="6.60"/><rect x="521.87" y="411.15" width="6.60" height="6.60"/><rect x="536.71" y="411.15" width="6.60" height="6.60"/><rect x="551.56" y="411.15" width="6.60" height="6.60"/><rect x="566.41" y="411.15" width="6.60" height="6.60"/><rect x="581.25" y="411.15" width="6.60" height="6.60"/><rect x="596.10" y="411.15" width="6.60" height="6.60"/><rect x="610.94" y="411.15" width="6.60" height="6.60"/><rect x="625.79" y="411.15" width="6.60" height="6.60"/><rect x="640.64" y="411.15" width="6.60" height="6.60"/><rect x="655.48" y="411.15" width="6.60" height="6.60"/><rect x="670.33" y="411.15" width="6.60" height="6.60"/><rect x="685.17" y="411.15" width="6.60" height="6.60"/><rect x="700.02" y="411.15" width="6.60" height="6.60"/><rect x="714.87" y="411.15" width="6.60" height="6.60"/><rect x="729.71" y="411.15" width="6.60" height="6.60"/><rect x="744.56" y="411.15" width="6.60" height="6.60"/><rect x="759.40" y="411.15" width="6.60" height="6.60"/><rect x="774.25" y="411.15" width="6.60" height="6.60"/><rect x="789.10" y="411.15" width="6.60" height="6.60"/><rect x="803.94" y="411.15" width="6.60" height="6.60"/><rect x="818.79" y="411.15" width="6.60" height="6.60"/><rect x="833.63" y="411.15" width="6.60" height="6.60"/><rect x="848.48" y="411.15" width="6.60" height="6.60"/><rect x="863.33" y="411.15" width="6.60" height="6.60"/><rect x="878.17" y="411.15" width="6.60" height="6.60"/><rect x="893.02" y="411.15" width="6.60" height="6.60"/><rect x="907.86" y="411.15" width="6.60" height="6.60"/><rect x="31.95" y="425.70" width="6.60" height="6.60"/><rect x="46.80" y="425.70" width="6.60" height="6.60"/><rect x="61.64" y="425.70" width="6.60" height="6.60"/><rect x="76.49" y="425.70" width="6.60" height="6.60"/><rect x="91.33" y="425.70" width="6.60" height="6.60"/><rect x="106.18" y="425.70" width="6.60" height="6.60"/><rect x="121.03" y="425.70" width="6.60" height="6.60"/><rect x="135.87" y="425.70" width="6.60" height="6.60"/><rect x="150.72" y="425.70" width="6.60" height="6.60"/><rect x="165.56" y="425.70" width="6.60" height="6.60"/><rect x="180.41" y="425.70" width="6.60" height="6.60"/><rect x="195.26" y="425.70" width="6.60" height="6.60"/><rect x="210.10" y="425.70" width="6.60" height="6.60"/><rect x="224.95" y="425.70" width="6.60" height="6.60"/><rect x="239.79" y="425.70" width="6.60" height="6.60"/><rect x="254.64" y="425.70" width="6.60" height="6.60"/><rect x="269.49" y="425.70" width="6.60" height="6.60"/><rect x="284.33" y="425.70" width="6.60" height="6.60"/><rect x="299.18" y="425.70" width="6.60" height="6.60"/><rect x="314.02" y="425.70" width="6.60" height="6.60"/><rect x="328.87" y="425.70" width="6.60" height="6.60"/><rect x="343.72" y="425.70" width="6.60" height="6.60"/><rect x="358.56" y="425.70" width="6.60" height="6.60"/><rect x="373.41" y="425.70" width="6.60" height="6.60"/><rect x="388.25" y="425.70" width="6.60" height="6.60"/><rect x="403.10" y="425.70" width="6.60" height="6.60"/><rect x="417.95" y="425.70" width="6.60" height="6.60"/><rect x="432.79" y="425.70" width="6.60" height="6.60"/><rect x="447.64" y="425.70" width="6.60" height="6.60"/><rect x="462.48" y="425.70" width="6.60" height="6.60"/><rect x="477.33" y="425.70" width="6.60" height="6.60"/><rect x="492.18" y="425.70" width="6.60" height="6.60"/><rect x="507.02" y="425.70" width="6.60" height="6.60"/><rect x="521.87" y="425.70" width="6.60" height="6.60"/><rect x="536.71" y="425.70" width="6.60" height="6.60"/><rect x="551.56" y="425.70" width="6.60" height="6.60"/><rect x="566.41" y="425.70" width="6.60" height="6.60"/><rect x="581.25" y="425.70" width="6.60" height="6.60"/><rect x="596.10" y="425.70" width="6.60" height="6.60"/><rect x="610.94" y="425.70" width="6.60" height="6.60"/><rect x="625.79" y="425.70" width="6.60" height="6.60"/><rect x="640.64" y="425.70" width="6.60" height="6.60"/><rect x="655.48" y="425.70" width="6.60" height="6.60"/><rect x="670.33" y="425.70" width="6.60" height="6.60"/><rect x="685.17" y="425.70" width="6.60" height="6.60"/><rect x="700.02" y="425.70" width="6.60" height="6.60"/><rect x="714.87" y="425.70" width="6.60" height="6.60"/><rect x="729.71" y="425.70" width="6.60" height="6.60"/><rect x="744.56" y="425.70" width="6.60" height="6.60"/><rect x="759.40" y="425.70" width="6.60" height="6.60"/><rect x="774.25" y="425.70" width="6.60" height="6.60"/><rect x="789.10" y="425.70" width="6.60" height="6.60"/><rect x="803.94" y="425.70" width="6.60" height="6.60"/><rect x="818.79" y="425.70" width="6.60" height="6.60"/><rect x="833.63" y="425.70" width="6.60" height="6.60"/><rect x="848.48" y="425.70" width="6.60" height="6.60"/><rect x="863.33" y="425.70" width="6.60" height="6.60"/><rect x="878.17" y="425.70" width="6.60" height="6.60"/><rect x="893.02" y="425.70" width="6.60" height="6.60"/><rect x="907.86" y="425.70" width="6.60" height="6.60"/><rect x="31.95" y="440.25" width="6.60" height="6.60"/><rect x="46.80" y="440.25" width="6.60" height="6.60"/><rect x="61.64" y="440.25" width="6.60" height="6.60"/><rect x="76.49" y="440.25" width="6.60" height="6.60"/><rect x="91.33" y="440.25" width="6.60" height="6.60"/><rect x="106.18" y="440.25" width="6.60" height="6.60"/><rect x="121.03" y="440.25" width="6.60" height="6.60"/><rect x="135.87" y="440.25" width="6.60" height="6.60"/><rect x="150.72" y="440.25" width="6.60" height="6.60"/><rect x="165.56" y="440.25" width="6.60" height="6.60"/><rect x="180.41" y="440.25" width="6.60" height="6.60"/><rect x="195.26" y="440.25" width="6.60" height="6.60"/><rect x="210.10" y="440.25" width="6.60" height="6.60"/><rect x="224.95" y="440.25" width="6.60" height="6.60"/><rect x="239.79" y="440.25" width="6.60" height="6.60"/><rect x="254.64" y="440.25" width="6.60" height="6.60"/><rect x="269.49" y="440.25" width="6.60" height="6.60"/><rect x="284.33" y="440.25" width="6.60" height="6.60"/><rect x="299.18" y="440.25" width="6.60" height="6.60"/><rect x="314.02" y="440.25" width="6.60" height="6.60"/><rect x="328.87" y="440.25" width="6.60" height="6.60"/><rect x="343.72" y="440.25" width="6.60" height="6.60"/><rect x="358.56" y="440.25" width="6.60" height="6.60"/><rect x="373.41" y="440.25" width="6.60" height="6.60"/><rect x="388.25" y="440.25" width="6.60" height="6.60"/><rect x="403.10" y="440.25" width="6.60" height="6.60"/><rect x="417.95" y="440.25" width="6.60" height="6.60"/><rect x="432.79" y="440.25" width="6.60" height="6.60"/><rect x="447.64" y="440.25" width="6.60" height="6.60"/><rect x="462.48" y="440.25" width="6.60" height="6.60"/><rect x="477.33" y="440.25" width="6.60" height="6.60"/><rect x="492.18" y="440.25" width="6.60" height="6.60"/><rect x="507.02" y="440.25" width="6.60" height="6.60"/><rect x="521.87" y="440.25" width="6.60" height="6.60"/><rect x="536.71" y="440.25" width="6.60" height="6.60"/><rect x="551.56" y="440.25" width="6.60" height="6.60"/><rect x="566.41" y="440.25" width="6.60" height="6.60"/><rect x="581.25" y="440.25" width="6.60" height="6.60"/><rect x="596.10" y="440.25" width="6.60" height="6.60"/><rect x="610.94" y="440.25" width="6.60" height="6.60"/><rect x="625.79" y="440.25" width="6.60" height="6.60"/><rect x="640.64" y="440.25" width="6.60" height="6.60"/><rect x="655.48" y="440.25" width="6.60" height="6.60"/><rect x="670.33" y="440.25" width="6.60" height="6.60"/><rect x="685.17" y="440.25" width="6.60" height="6.60"/><rect x="700.02" y="440.25" width="6.60" height="6.60"/><rect x="714.87" y="440.25" width="6.60" height="6.60"/><rect x="729.71" y="440.25" width="6.60" height="6.60"/><rect x="744.56" y="440.25" width="6.60" height="6.60"/><rect x="759.40" y="440.25" width="6.60" height="6.60"/><rect x="774.25" y="440.25" width="6.60" height="6.60"/><rect x="789.10" y="440.25" width="6.60" height="6.60"/><rect x="803.94" y="440.25" width="6.60" height="6.60"/><rect x="818.79" y="440.25" width="6.60" height="6.60"/><rect x="833.63" y="440.25" width="6.60" height="6.60"/><rect x="848.48" y="440.25" width="6.60" height="6.60"/><rect x="863.33" y="440.25" width="6.60" height="6.60"/><rect x="878.17" y="440.25" width="6.60" height="6.60"/><rect x="893.02" y="440.25" width="6.60" height="6.60"/><rect x="907.86" y="440.25" width="6.60" height="6.60"/><rect x="31.95" y="454.80" width="6.60" height="6.60"/><rect x="46.80" y="454.80" width="6.60" height="6.60"/><rect x="61.64" y="454.80" width="6.60" height="6.60"/><rect x="76.49" y="454.80" width="6.60" height="6.60"/><rect x="91.33" y="454.80" width="6.60" height="6.60"/><rect x="106.18" y="454.80" width="6.60" height="6.60"/><rect x="121.03" y="454.80" width="6.60" height="6.60"/><rect x="135.87" y="454.80" width="6.60" height="6.60"/><rect x="150.72" y="454.80" width="6.60" height="6.60"/><rect x="165.56" y="454.80" width="6.60" height="6.60"/><rect x="180.41" y="454.80" width="6.60" height="6.60"/><rect x="195.26" y="454.80" width="6.60" height="6.60"/><rect x="210.10" y="454.80" width="6.60" height="6.60"/><rect x="224.95" y="454.80" width="6.60" height="6.60"/><rect x="239.79" y="454.80" width="6.60" height="6.60"/><rect x="254.64" y="454.80" width="6.60" height="6.60"/><rect x="269.49" y="454.80" width="6.60" height="6.60"/><rect x="284.33" y="454.80" width="6.60" height="6.60"/><rect x="299.18" y="454.80" width="6.60" height="6.60"/><rect x="314.02" y="454.80" width="6.60" height="6.60"/><rect x="328.87" y="454.80" width="6.60" height="6.60"/><rect x="343.72" y="454.80" width="6.60" height="6.60"/><rect x="358.56" y="454.80" width="6.60" height="6.60"/><rect x="373.41" y="454.80" width="6.60" height="6.60"/><rect x="388.25" y="454.80" width="6.60" height="6.60"/><rect x="403.10" y="454.80" width="6.60" height="6.60"/><rect x="417.95" y="454.80" width="6.60" height="6.60"/><rect x="432.79" y="454.80" width="6.60" height="6.60"/><rect x="447.64" y="454.80" width="6.60" height="6.60"/><rect x="462.48" y="454.80" width="6.60" height="6.60"/><rect x="477.33" y="454.80" width="6.60" height="6.60"/><rect x="492.18" y="454.80" width="6.60" height="6.60"/><rect x="507.02" y="454.80" width="6.60" height="6.60"/><rect x="521.87" y="454.80" width="6.60" height="6.60"/><rect x="536.71" y="454.80" width="6.60" height="6.60"/><rect x="551.56" y="454.80" width="6.60" height="6.60"/><rect x="566.41" y="454.80" width="6.60" height="6.60"/><rect x="581.25" y="454.80" width="6.60" height="6.60"/><rect x="596.10" y="454.80" width="6.60" height="6.60"/><rect x="610.94" y="454.80" width="6.60" height="6.60"/><rect x="625.79" y="454.80" width="6.60" height="6.60"/><rect x="640.64" y="454.80" width="6.60" height="6.60"/><rect x="655.48" y="454.80" width="6.60" height="6.60"/><rect x="670.33" y="454.80" width="6.60" height="6.60"/><rect x="685.17" y="454.80" width="6.60" height="6.60"/><rect x="700.02" y="454.80" width="6.60" height="6.60"/><rect x="714.87" y="454.80" width="6.60" height="6.60"/><rect x="729.71" y="454.80" width="6.60" height="6.60"/><rect x="744.56" y="454.80" width="6.60" height="6.60"/><rect x="759.40" y="454.80" width="6.60" height="6.60"/><rect x="774.25" y="454.80" width="6.60" height="6.60"/><rect x="789.10" y="454.80" width="6.60" height="6.60"/><rect x="803.94" y="454.80" width="6.60" height="6.60"/><rect x="818.79" y="454.80" width="6.60" height="6.60"/><rect x="833.63" y="454.80" width="6.60" height="6.60"/><rect x="848.48" y="454.80" width="6.60" height="6.60"/><rect x="863.33" y="454.80" width="6.60" height="6.60"/><rect x="878.17" y="454.80" width="6.60" height="6.60"/><rect x="893.02" y="454.80" width="6.60" height="6.60"/><rect x="907.86" y="454.80" width="6.60" height="6.60"/><rect x="31.95" y="469.35" width="6.60" height="6.60"/><rect x="46.80" y="469.35" width="6.60" height="6.60"/><rect x="61.64" y="469.35" width="6.60" height="6.60"/><rect x="76.49" y="469.35" width="6.60" height="6.60"/><rect x="91.33" y="469.35" width="6.60" height="6.60"/><rect x="106.18" y="469.35" width="6.60" height="6.60"/><rect x="121.03" y="469.35" width="6.60" height="6.60"/><rect x="135.87" y="469.35" width="6.60" height="6.60"/><rect x="150.72" y="469.35" width="6.60" height="6.60"/><rect x="165.56" y="469.35" width="6.60" height="6.60"/><rect x="180.41" y="469.35" width="6.60" height="6.60"/><rect x="195.26" y="469.35" width="6.60" height="6.60"/><rect x="210.10" y="469.35" width="6.60" height="6.60"/><rect x="224.95" y="469.35" width="6.60" height="6.60"/><rect x="239.79" y="469.35" width="6.60" height="6.60"/><rect x="254.64" y="469.35" width="6.60" height="6.60"/><rect x="269.49" y="469.35" width="6.60" height="6.60"/><rect x="284.33" y="469.35" width="6.60" height="6.60"/><rect x="299.18" y="469.35" width="6.60" height="6.60"/><rect x="314.02" y="469.35" width="6.60" height="6.60"/><rect x="328.87" y="469.35" width="6.60" height="6.60"/><rect x="343.72" y="469.35" width="6.60" height="6.60"/><rect x="358.56" y="469.35" width="6.60" height="6.60"/><rect x="373.41" y="469.35" width="6.60" height="6.60"/><rect x="388.25" y="469.35" width="6.60" height="6.60"/><rect x="403.10" y="469.35" width="6.60" height="6.60"/><rect x="417.95" y="469.35" width="6.60" height="6.60"/><rect x="432.79" y="469.35" width="6.60" height="6.60"/><rect x="447.64" y="469.35" width="6.60" height="6.60"/><rect x="462.48" y="469.35" width="6.60" height="6.60"/><rect x="477.33" y="469.35" width="6.60" height="6.60"/><rect x="492.18" y="469.35" width="6.60" height="6.60"/><rect x="507.02" y="469.35" width="6.60" height="6.60"/><rect x="521.87" y="469.35" width="6.60" height="6.60"/><rect x="536.71" y="469.35" width="6.60" height="6.60"/><rect x="551.56" y="469.35" width="6.60" height="6.60"/><rect x="566.41" y="469.35" width="6.60" height="6.60"/><rect x="581.25" y="469.35" width="6.60" height="6.60"/><rect x="596.10" y="469.35" width="6.60" height="6.60"/><rect x="610.94" y="469.35" width="6.60" height="6.60"/><rect x="625.79" y="469.35" width="6.60" height="6.60"/><rect x="640.64" y="469.35" width="6.60" height="6.60"/><rect x="655.48" y="469.35" width="6.60" height="6.60"/><rect x="670.33" y="469.35" width="6.60" height="6.60"/><rect x="685.17" y="469.35" width="6.60" height="6.60"/><rect x="700.02" y="469.35" width="6.60" height="6.60"/><rect x="714.87" y="469.35" width="6.60" height="6.60"/><rect x="729.71" y="469.35" width="6.60" height="6.60"/><rect x="744.56" y="469.35" width="6.60" height="6.60"/><rect x="759.40" y="469.35" width="6.60" height="6.60"/><rect x="774.25" y="469.35" width="6.60" height="6.60"/><rect x="789.10" y="469.35" width="6.60" height="6.60"/><rect x="803.94" y="469.35" width="6.60" height="6.60"/><rect x="818.79" y="469.35" width="6.60" height="6.60"/><rect x="833.63" y="469.35" width="6.60" height="6.60"/><rect x="848.48" y="469.35" width="6.60" height="6.60"/><rect x="863.33" y="469.35" width="6.60" height="6.60"/><rect x="878.17" y="469.35" width="6.60" height="6.60"/><rect x="893.02" y="469.35" width="6.60" height="6.60"/><rect x="907.86" y="469.35" width="6.60" height="6.60"/><rect x="625.79" y="483.90" width="6.60" height="6.60"/><rect x="640.64" y="483.90" width="6.60" height="6.60"/><rect x="655.48" y="483.90" width="6.60" height="6.60"/><rect x="670.33" y="483.90" width="6.60" height="6.60"/><rect x="685.17" y="483.90" width="6.60" height="6.60"/><rect x="700.02" y="483.90" width="6.60" height="6.60"/><rect x="714.87" y="483.90" width="6.60" height="6.60"/><rect x="729.71" y="483.90" width="6.60" height="6.60"/><rect x="744.56" y="483.90" width="6.60" height="6.60"/><rect x="759.40" y="483.90" width="6.60" height="6.60"/><rect x="774.25" y="483.90" width="6.60" height="6.60"/><rect x="789.10" y="483.90" width="6.60" height="6.60"/><rect x="803.94" y="483.90" width="6.60" height="6.60"/><rect x="818.79" y="483.90" width="6.60" height="6.60"/><rect x="833.63" y="483.90" width="6.60" height="6.60"/><rect x="848.48" y="483.90" width="6.60" height="6.60"/><rect x="863.33" y="483.90" width="6.60" height="6.60"/><rect x="878.17" y="483.90" width="6.60" height="6.60"/><rect x="893.02" y="483.90" width="6.60" height="6.60"/><rect x="907.86" y="483.90" width="6.60" height="6.60"/></g><g fill="#1048c8"><rect x="31.95" y="483.90" width="6.60" height="6.60"/><rect x="46.80" y="483.90" width="6.60" height="6.60"/><rect x="61.64" y="483.90" width="6.60" height="6.60"/><rect x="76.49" y="483.90" width="6.60" height="6.60"/><rect x="91.33" y="483.90" width="6.60" height="6.60"/><rect x="106.18" y="483.90" width="6.60" height="6.60"/><rect x="121.03" y="483.90" width="6.60" height="6.60"/><rect x="135.87" y="483.90" width="6.60" height="6.60"/><rect x="150.72" y="483.90" width="6.60" height="6.60"/><rect x="165.56" y="483.90" width="6.60" height="6.60"/><rect x="180.41" y="483.90" width="6.60" height="6.60"/><rect x="195.26" y="483.90" width="6.60" height="6.60"/><rect x="210.10" y="483.90" width="6.60" height="6.60"/><rect x="224.95" y="483.90" width="6.60" height="6.60"/><rect x="239.79" y="483.90" width="6.60" height="6.60"/><rect x="254.64" y="483.90" width="6.60" height="6.60"/><rect x="269.49" y="483.90" width="6.60" height="6.60"/><rect x="284.33" y="483.90" width="6.60" height="6.60"/><rect x="299.18" y="483.90" width="6.60" height="6.60"/><rect x="314.02" y="483.90" width="6.60" height="6.60"/><rect x="328.87" y="483.90" width="6.60" height="6.60"/><rect x="343.72" y="483.90" width="6.60" height="6.60"/><rect x="358.56" y="483.90" width="6.60" height="6.60"/><rect x="373.41" y="483.90" width="6.60" height="6.60"/><rect x="388.25" y="483.90" width="6.60" height="6.60"/><rect x="403.10" y="483.90" width="6.60" height="6.60"/><rect x="417.95" y="483.90" width="6.60" height="6.60"/><rect x="432.79" y="483.90" width="6.60" height="6.60"/><rect x="447.64" y="483.90" width="6.60" height="6.60"/><rect x="462.48" y="483.90" width="6.60" height="6.60"/><rect x="477.33" y="483.90" width="6.60" height="6.60"/><rect x="492.18" y="483.90" width="6.60" height="6.60"/><rect x="507.02" y="483.90" width="6.60" height="6.60"/><rect x="521.87" y="483.90" width="6.60" height="6.60"/><rect x="536.71" y="483.90" width="6.60" height="6.60"/><rect x="551.56" y="483.90" width="6.60" height="6.60"/><rect x="566.41" y="483.90" width="6.60" height="6.60"/><rect x="581.25" y="483.90" width="6.60" height="6.60"/><rect x="596.10" y="483.90" width="6.60" height="6.60"/><rect x="610.94" y="483.90" width="6.60" height="6.60"/><rect x="31.95" y="498.45" width="6.60" height="6.60"/><rect x="46.80" y="498.45" width="6.60" height="6.60"/><rect x="61.64" y="498.45" width="6.60" height="6.60"/><rect x="76.49" y="498.45" width="6.60" height="6.60"/><rect x="91.33" y="498.45" width="6.60" height="6.60"/><rect x="106.18" y="498.45" width="6.60" height="6.60"/><rect x="121.03" y="498.45" width="6.60" height="6.60"/><rect x="135.87" y="498.45" width="6.60" height="6.60"/><rect x="150.72" y="498.45" width="6.60" height="6.60"/><rect x="165.56" y="498.45" width="6.60" height="6.60"/><rect x="180.41" y="498.45" width="6.60" height="6.60"/><rect x="195.26" y="498.45" width="6.60" height="6.60"/><rect x="210.10" y="498.45" width="6.60" height="6.60"/><rect x="224.95" y="498.45" width="6.60" height="6.60"/><rect x="239.79" y="498.45" width="6.60" height="6.60"/><rect x="254.64" y="498.45" width="6.60" height="6.60"/><rect x="269.49" y="498.45" width="6.60" height="6.60"/><rect x="284.33" y="498.45" width="6.60" height="6.60"/><rect x="299.18" y="498.45" width="6.60" height="6.60"/><rect x="314.02" y="498.45" width="6.60" height="6.60"/><rect x="328.87" y="498.45" width="6.60" height="6.60"/><rect x="343.72" y="498.45" width="6.60" height="6.60"/><rect x="358.56" y="498.45" width="6.60" height="6.60"/><rect x="373.41" y="498.45" width="6.60" height="6.60"/><rect x="388.25" y="498.45" width="6.60" height="6.60"/><rect x="403.10" y="498.45" width="6.60" height="6.60"/><rect x="417.95" y="498.45" width="6.60" height="6.60"/><rect x="432.79" y="498.45" width="6.60" height="6.60"/><rect x="447.64" y="498.45" width="6.60" height="6.60"/><rect x="462.48" y="498.45" width="6.60" height="6.60"/><rect x="477.33" y="498.45" width="6.60" height="6.60"/><rect x="492.18" y="498.45" width="6.60" height="6.60"/><rect x="507.02" y="498.45" width="6.60" height="6.60"/><rect x="521.87" y="498.45" width="6.60" height="6.60"/><rect x="536.71" y="498.45" width="6.60" height="6.60"/><rect x="551.56" y="498.45" width="6.60" height="6.60"/><rect x="566.41" y="498.45" width="6.60" height="6.60"/><rect x="581.25" y="498.45" width="6.60" height="6.60"/><rect x="596.10" y="498.45" width="6.60" height="6.60"/><rect x="610.94" y="498.45" width="6.60" height="6.60"/><rect x="625.79" y="498.45" width="6.60" height="6.60"/><rect x="640.64" y="498.45" width="6.60" height="6.60"/><rect x="655.48" y="498.45" width="6.60" height="6.60"/><rect x="670.33" y="498.45" width="6.60" height="6.60"/><rect x="685.17" y="498.45" width="6.60" height="6.60"/><rect x="700.02" y="498.45" width="6.60" height="6.60"/><rect x="714.87" y="498.45" width="6.60" height="6.60"/><rect x="729.71" y="498.45" width="6.60" height="6.60"/><rect x="744.56" y="498.45" width="6.60" height="6.60"/><rect x="759.40" y="498.45" width="6.60" height="6.60"/><rect x="774.25" y="498.45" width="6.60" height="6.60"/><rect x="789.10" y="498.45" width="6.60" height="6.60"/><rect x="803.94" y="498.45" width="6.60" height="6.60"/><rect x="818.79" y="498.45" width="6.60" height="6.60"/><rect x="833.63" y="498.45" width="6.60" height="6.60"/><rect x="848.48" y="498.45" width="6.60" height="6.60"/><rect x="863.33" y="498.45" width="6.60" height="6.60"/><rect x="878.17" y="498.45" width="6.60" height="6.60"/><rect x="893.02" y="498.45" width="6.60" height="6.60"/><rect x="907.86" y="498.45" width="6.60" height="6.60"/><rect x="31.95" y="513.00" width="6.60" height="6.60"/><rect x="46.80" y="513.00" width="6.60" height="6.60"/><rect x="61.64" y="513.00" width="6.60" height="6.60"/><rect x="76.49" y="513.00" width="6.60" height="6.60"/><rect x="91.33" y="513.00" width="6.60" height="6.60"/><rect x="106.18" y="513.00" width="6.60" height="6.60"/><rect x="121.03" y="513.00" width="6.60" height="6.60"/><rect x="135.87" y="513.00" width="6.60" height="6.60"/><rect x="150.72" y="513.00" width="6.60" height="6.60"/><rect x="165.56" y="513.00" width="6.60" height="6.60"/><rect x="180.41" y="513.00" width="6.60" height="6.60"/><rect x="195.26" y="513.00" width="6.60" height="6.60"/><rect x="210.10" y="513.00" width="6.60" height="6.60"/><rect x="224.95" y="513.00" width="6.60" height="6.60"/><rect x="239.79" y="513.00" width="6.60" height="6.60"/><rect x="254.64" y="513.00" width="6.60" height="6.60"/><rect x="269.49" y="513.00" width="6.60" height="6.60"/><rect x="284.33" y="513.00" width="6.60" height="6.60"/><rect x="299.18" y="513.00" width="6.60" height="6.60"/><rect x="314.02" y="513.00" width="6.60" height="6.60"/><rect x="328.87" y="513.00" width="6.60" height="6.60"/><rect x="343.72" y="513.00" width="6.60" height="6.60"/><rect x="358.56" y="513.00" width="6.60" height="6.60"/><rect x="373.41" y="513.00" width="6.60" height="6.60"/><rect x="388.25" y="513.00" width="6.60" height="6.60"/><rect x="403.10" y="513.00" width="6.60" height="6.60"/><rect x="417.95" y="513.00" width="6.60" height="6.60"/><rect x="432.79" y="513.00" width="6.60" height="6.60"/><rect x="447.64" y="513.00" width="6.60" height="6.60"/><rect x="462.48" y="513.00" width="6.60" height="6.60"/><rect x="477.33" y="513.00" width="6.60" height="6.60"/><rect x="492.18" y="513.00" width="6.60" height="6.60"/><rect x="507.02" y="513.00" width="6.60" height="6.60"/><rect x="521.87" y="513.00" width="6.60" height="6.60"/><rect x="536.71" y="513.00" width="6.60" height="6.60"/><rect x="551.56" y="513.00" width="6.60" height="6.60"/><rect x="566.41" y="513.00" width="6.60" height="6.60"/><rect x="581.25" y="513.00" width="6.60" height="6.60"/><rect x="596.10" y="513.00" width="6.60" height="6.60"/><rect x="610.94" y="513.00" width="6.60" height="6.60"/><rect x="625.79" y="513.00" width="6.60" height="6.60"/><rect x="640.64" y="513.00" width="6.60" height="6.60"/><rect x="655.48" y="513.00" width="6.60" height="6.60"/><rect x="670.33" y="513.00" width="6.60" height="6.60"/><rect x="685.17" y="513.00" width="6.60" height="6.60"/><rect x="700.02" y="513.00" width="6.60" height="6.60"/><rect x="714.87" y="513.00" width="6.60" height="6.60"/><rect x="729.71" y="513.00" width="6.60" height="6.60"/><rect x="744.56" y="513.00" width="6.60" height="6.60"/><rect x="759.40" y="513.00" width="6.60" height="6.60"/><rect x="774.25" y="513.00" width="6.60" height="6.60"/><rect x="789.10" y="513.00" width="6.60" height="6.60"/><rect x="803.94" y="513.00" width="6.60" height="6.60"/><rect x="818.79" y="513.00" width="6.60" height="6.60"/><rect x="833.63" y="513.00" width="6.60" height="6.60"/><rect x="848.48" y="513.00" width="6.60" height="6.60"/><rect x="863.33" y="513.00" width="6.60" height="6.60"/><rect x="878.17" y="513.00" width="6.60" height="6.60"/><rect x="893.02" y="513.00" width="6.60" height="6.60"/><rect x="907.86" y="513.00" width="6.60" height="6.60"/><rect x="31.95" y="527.55" width="6.60" height="6.60"/><rect x="46.80" y="527.55" width="6.60" height="6.60"/><rect x="61.64" y="527.55" width="6.60" height="6.60"/><rect x="76.49" y="527.55" width="6.60" height="6.60"/><rect x="91.33" y="527.55" width="6.60" height="6.60"/><rect x="106.18" y="527.55" width="6.60" height="6.60"/><rect x="121.03" y="527.55" width="6.60" height="6.60"/><rect x="135.87" y="527.55" width="6.60" height="6.60"/><rect x="150.72" y="527.55" width="6.60" height="6.60"/><rect x="165.56" y="527.55" width="6.60" height="6.60"/><rect x="180.41" y="527.55" width="6.60" height="6.60"/><rect x="195.26" y="527.55" width="6.60" height="6.60"/><rect x="210.10" y="527.55" width="6.60" height="6.60"/><rect x="224.95" y="527.55" width="6.60" height="6.60"/><rect x="239.79" y="527.55" width="6.60" height="6.60"/><rect x="254.64" y="527.55" width="6.60" height="6.60"/><rect x="269.49" y="527.55" width="6.60" height="6.60"/><rect x="284.33" y="527.55" width="6.60" height="6.60"/><rect x="299.18" y="527.55" width="6.60" height="6.60"/><rect x="314.02" y="527.55" width="6.60" height="6.60"/><rect x="328.87" y="527.55" width="6.60" height="6.60"/><rect x="343.72" y="527.55" width="6.60" height="6.60"/><rect x="358.56" y="527.55" width="6.60" height="6.60"/><rect x="373.41" y="527.55" width="6.60" height="6.60"/><rect x="388.25" y="527.55" width="6.60" height="6.60"/><rect x="403.10" y="527.55" width="6.60" height="6.60"/><rect x="417.95" y="527.55" width="6.60" height="6.60"/><rect x="432.79" y="527.55" width="6.60" height="6.60"/><rect x="447.64" y="527.55" width="6.60" height="6.60"/><rect x="462.48" y="527.55" width="6.60" height="6.60"/><rect x="477.33" y="527.55" width="6.60" height="6.60"/><rect x="492.18" y="527.55" width="6.60" height="6.60"/><rect x="507.02" y="527.55" width="6.60" height="6.60"/><rect x="521.87" y="527.55" width="6.60" height="6.60"/><rect x="536.71" y="527.55" width="6.60" height="6.60"/><rect x="551.56" y="527.55" width="6.60" height="6.60"/><rect x="566.41" y="527.55" width="6.60" height="6.60"/><rect x="581.25" y="527.55" width="6.60" height="6.60"/><rect x="596.10" y="527.55" width="6.60" height="6.60"/><rect x="610.94" y="527.55" width="6.60" height="6.60"/><rect x="625.79" y="527.55" width="6.60" height="6.60"/><rect x="640.64" y="527.55" width="6.60" height="6.60"/><rect x="655.48" y="527.55" width="6.60" height="6.60"/><rect x="670.33" y="527.55" width="6.60" height="6.60"/><rect x="685.17" y="527.55" width="6.60" height="6.60"/><rect x="700.02" y="527.55" width="6.60" height="6.60"/><rect x="714.87" y="527.55" width="6.60" height="6.60"/><rect x="729.71" y="527.55" width="6.60" height="6.60"/><rect x="744.56" y="527.55" width="6.60" height="6.60"/><rect x="759.40" y="527.55" width="6.60" height="6.60"/><rect x="774.25" y="527.55" width="6.60" height="6.60"/><rect x="789.10" y="527.55" width="6.60" height="6.60"/><rect x="803.94" y="527.55" width="6.60" height="6.60"/><rect x="818.79" y="527.55" width="6.60" height="6.60"/><rect x="833.63" y="527.55" width="6.60" height="6.60"/><rect x="848.48" y="527.55" width="6.60" height="6.60"/><rect x="863.33" y="527.55" width="6.60" height="6.60"/><rect x="878.17" y="527.55" width="6.60" height="6.60"/><rect x="893.02" y="527.55" width="6.60" height="6.60"/><rect x="907.86" y="527.55" width="6.60" height="6.60"/><rect x="31.95" y="542.10" width="6.60" height="6.60"/><rect x="46.80" y="542.10" width="6.60" height="6.60"/><rect x="61.64" y="542.10" width="6.60" height="6.60"/><rect x="76.49" y="542.10" width="6.60" height="6.60"/><rect x="91.33" y="542.10" width="6.60" height="6.60"/><rect x="106.18" y="542.10" width="6.60" height="6.60"/><rect x="121.03" y="542.10" width="6.60" height="6.60"/><rect x="135.87" y="542.10" width="6.60" height="6.60"/><rect x="150.72" y="542.10" width="6.60" height="6.60"/><rect x="165.56" y="542.10" width="6.60" height="6.60"/><rect x="180.41" y="542.10" width="6.60" height="6.60"/><rect x="195.26" y="542.10" width="6.60" height="6.60"/><rect x="210.10" y="542.10" width="6.60" height="6.60"/><rect x="224.95" y="542.10" width="6.60" height="6.60"/><rect x="239.79" y="542.10" width="6.60" height="6.60"/><rect x="254.64" y="542.10" width="6.60" height="6.60"/><rect x="269.49" y="542.10" width="6.60" height="6.60"/><rect x="284.33" y="542.10" width="6.60" height="6.60"/><rect x="299.18" y="542.10" width="6.60" height="6.60"/><rect x="314.02" y="542.10" width="6.60" height="6.60"/><rect x="328.87" y="542.10" width="6.60" height="6.60"/><rect x="343.72" y="542.10" width="6.60" height="6.60"/><rect x="358.56" y="542.10" width="6.60" height="6.60"/><rect x="373.41" y="542.10" width="6.60" height="6.60"/><rect x="388.25" y="542.10" width="6.60" height="6.60"/><rect x="403.10" y="542.10" width="6.60" height="6.60"/><rect x="417.95" y="542.10" width="6.60" height="6.60"/><rect x="432.79" y="542.10" width="6.60" height="6.60"/><rect x="447.64" y="542.10" width="6.60" height="6.60"/><rect x="462.48" y="542.10" width="6.60" height="6.60"/><rect x="477.33" y="542.10" width="6.60" height="6.60"/><rect x="492.18" y="542.10" width="6.60" height="6.60"/><rect x="507.02" y="542.10" width="6.60" height="6.60"/><rect x="521.87" y="542.10" width="6.60" height="6.60"/><rect x="536.71" y="542.10" width="6.60" height="6.60"/><rect x="551.56" y="542.10" width="6.60" height="6.60"/><rect x="566.41" y="542.10" width="6.60" height="6.60"/><rect x="581.25" y="542.10" width="6.60" height="6.60"/><rect x="596.10" y="542.10" width="6.60" height="6.60"/><rect x="610.94" y="542.10" width="6.60" height="6.60"/><rect x="625.79" y="542.10" width="6.60" height="6.60"/><rect x="640.64" y="542.10" width="6.60" height="6.60"/><rect x="655.48" y="542.10" width="6.60" height="6.60"/><rect x="670.33" y="542.10" width="6.60" height="6.60"/><rect x="685.17" y="542.10" width="6.60" height="6.60"/><rect x="700.02" y="542.10" width="6.60" height="6.60"/><rect x="714.87" y="542.10" width="6.60" height="6.60"/><rect x="729.71" y="542.10" width="6.60" height="6.60"/><rect x="744.56" y="542.10" width="6.60" height="6.60"/><rect x="759.40" y="542.10" width="6.60" height="6.60"/><rect x="774.25" y="542.10" width="6.60" height="6.60"/><rect x="789.10" y="542.10" width="6.60" height="6.60"/><rect x="803.94" y="542.10" width="6.60" height="6.60"/><rect x="818.79" y="542.10" width="6.60" height="6.60"/><rect x="833.63" y="542.10" width="6.60" height="6.60"/><rect x="848.48" y="542.10" width="6.60" height="6.60"/><rect x="863.33" y="542.10" width="6.60" height="6.60"/><rect x="878.17" y="542.10" width="6.60" height="6.60"/><rect x="893.02" y="542.10" width="6.60" height="6.60"/><rect x="907.86" y="542.10" width="6.60" height="6.60"/><rect x="31.95" y="556.65" width="6.60" height="6.60"/><rect x="46.80" y="556.65" width="6.60" height="6.60"/><rect x="61.64" y="556.65" width="6.60" height="6.60"/><rect x="76.49" y="556.65" width="6.60" height="6.60"/><rect x="91.33" y="556.65" width="6.60" height="6.60"/><rect x="106.18" y="556.65" width="6.60" height="6.60"/><rect x="121.03" y="556.65" width="6.60" height="6.60"/><rect x="135.87" y="556.65" width="6.60" height="6.60"/><rect x="150.72" y="556.65" width="6.60" height="6.60"/><rect x="165.56" y="556.65" width="6.60" height="6.60"/><rect x="180.41" y="556.65" width="6.60" height="6.60"/><rect x="195.26" y="556.65" width="6.60" height="6.60"/><rect x="210.10" y="556.65" width="6.60" height="6.60"/><rect x="224.95" y="556.65" width="6.60" height="6.60"/><rect x="239.79" y="556.65" width="6.60" height="6.60"/><rect x="254.64" y="556.65" width="6.60" height="6.60"/><rect x="269.49" y="556.65" width="6.60" height="6.60"/><rect x="284.33" y="556.65" width="6.60" height="6.60"/><rect x="299.18" y="556.65" width="6.60" height="6.60"/><rect x="314.02" y="556.65" width="6.60" height="6.60"/><rect x="328.87" y="556.65" width="6.60" height="6.60"/><rect x="343.72" y="556.65" width="6.60" height="6.60"/><rect x="358.56" y="556.65" width="6.60" height="6.60"/><rect x="373.41" y="556.65" width="6.60" height="6.60"/><rect x="388.25" y="556.65" width="6.60" height="6.60"/><rect x="403.10" y="556.65" width="6.60" height="6.60"/><rect x="417.95" y="556.65" width="6.60" height="6.60"/><rect x="432.79" y="556.65" width="6.60" height="6.60"/><rect x="447.64" y="556.65" width="6.60" height="6.60"/><rect x="462.48" y="556.65" width="6.60" height="6.60"/><rect x="477.33" y="556.65" width="6.60" height="6.60"/><rect x="492.18" y="556.65" width="6.60" height="6.60"/><rect x="507.02" y="556.65" width="6.60" height="6.60"/><rect x="521.87" y="556.65" width="6.60" height="6.60"/><rect x="536.71" y="556.65" width="6.60" height="6.60"/><rect x="551.56" y="556.65" width="6.60" height="6.60"/><rect x="566.41" y="556.65" width="6.60" height="6.60"/><rect x="581.25" y="556.65" width="6.60" height="6.60"/><rect x="596.10" y="556.65" width="6.60" height="6.60"/><rect x="610.94" y="556.65" width="6.60" height="6.60"/><rect x="625.79" y="556.65" width="6.60" height="6.60"/><rect x="640.64" y="556.65" width="6.60" height="6.60"/><rect x="655.48" y="556.65" width="6.60" height="6.60"/><rect x="670.33" y="556.65" width="6.60" height="6.60"/><rect x="685.17" y="556.65" width="6.60" height="6.60"/><rect x="700.02" y="556.65" width="6.60" height="6.60"/><rect x="714.87" y="556.65" width="6.60" height="6.60"/><rect x="729.71" y="556.65" width="6.60" height="6.60"/><rect x="744.56" y="556.65" width="6.60" height="6.60"/><rect x="759.40" y="556.65" width="6.60" height="6.60"/><rect x="774.25" y="556.65" width="6.60" height="6.60"/><rect x="789.10" y="556.65" width="6.60" height="6.60"/><rect x="803.94" y="556.65" width="6.60" height="6.60"/><rect x="818.79" y="556.65" width="6.60" height="6.60"/><rect x="833.63" y="556.65" width="6.60" height="6.60"/><rect x="848.48" y="556.65" width="6.60" height="6.60"/><rect x="863.33" y="556.65" width="6.60" height="6.60"/><rect x="878.17" y="556.65" width="6.60" height="6.60"/><rect x="893.02" y="556.65" width="6.60" height="6.60"/><rect x="907.86" y="556.65" width="6.60" height="6.60"/><rect x="31.95" y="571.20" width="6.60" height="6.60"/><rect x="46.80" y="571.20" width="6.60" height="6.60"/><rect x="61.64" y="571.20" width="6.60" height="6.60"/><rect x="76.49" y="571.20" width="6.60" height="6.60"/><rect x="91.33" y="571.20" width="6.60" height="6.60"/><rect x="106.18" y="571.20" width="6.60" height="6.60"/><rect x="121.03" y="571.20" width="6.60" height="6.60"/><rect x="135.87" y="571.20" width="6.60" height="6.60"/><rect x="150.72" y="571.20" width="6.60" height="6.60"/><rect x="165.56" y="571.20" width="6.60" height="6.60"/><rect x="180.41" y="571.20" width="6.60" height="6.60"/><rect x="195.26" y="571.20" width="6.60" height="6.60"/><rect x="210.10" y="571.20" width="6.60" height="6.60"/><rect x="224.95" y="571.20" width="6.60" height="6.60"/><rect x="239.79" y="571.20" width="6.60" height="6.60"/><rect x="254.64" y="571.20" width="6.60" height="6.60"/><rect x="269.49" y="571.20" width="6.60" height="6.60"/><rect x="284.33" y="571.20" width="6.60" height="6.60"/><rect x="299.18" y="571.20" width="6.60" height="6.60"/><rect x="314.02" y="571.20" width="6.60" height="6.60"/><rect x="328.87" y="571.20" width="6.60" height="6.60"/><rect x="343.72" y="571.20" width="6.60" height="6.60"/><rect x="358.56" y="571.20" width="6.60" height="6.60"/><rect x="373.41" y="571.20" width="6.60" height="6.60"/><rect x="388.25" y="571.20" width="6.60" height="6.60"/><rect x="403.10" y="571.20" width="6.60" height="6.60"/><rect x="417.95" y="571.20" width="6.60" height="6.60"/><rect x="432.79" y="571.20" width="6.60" height="6.60"/><rect x="447.64" y="571.20" width="6.60" height="6.60"/><rect x="462.48" y="571.20" width="6.60" height="6.60"/><rect x="477.33" y="571.20" width="6.60" height="6.60"/><rect x="492.18" y="571.20" width="6.60" height="6.60"/><rect x="507.02" y="571.20" width="6.60" height="6.60"/><rect x="521.87" y="571.20" width="6.60" height="6.60"/><rect x="536.71" y="571.20" width="6.60" height="6.60"/><rect x="551.56" y="571.20" width="6.60" height="6.60"/><rect x="566.41" y="571.20" width="6.60" height="6.60"/><rect x="581.25" y="571.20" width="6.60" height="6.60"/><rect x="596.10" y="571.20" width="6.60" height="6.60"/><rect x="610.94" y="571.20" width="6.60" height="6.60"/><rect x="625.79" y="571.20" width="6.60" height="6.60"/><rect x="640.64" y="571.20" width="6.60" height="6.60"/><rect x="655.48" y="571.20" width="6.60" height="6.60"/><rect x="670.33" y="571.20" width="6.60" height="6.60"/><rect x="685.17" y="571.20" width="6.60" height="6.60"/><rect x="700.02" y="571.20" width="6.60" height="6.60"/><rect x="714.87" y="571.20" width="6.60" height="6.60"/><rect x="729.71" y="571.20" width="6.60" height="6.60"/><rect x="744.56" y="571.20" width="6.60" height="6.60"/><rect x="759.40" y="571.20" width="6.60" height="6.60"/><rect x="774.25" y="571.20" width="6.60" height="6.60"/><rect x="789.10" y="571.20" width="6.60" height="6.60"/><rect x="803.94" y="571.20" width="6.60" height="6.60"/><rect x="818.79" y="571.20" width="6.60" height="6.60"/><rect x="833.63" y="571.20" width="6.60" height="6.60"/><rect x="848.48" y="571.20" width="6.60" height="6.60"/><rect x="863.33" y="571.20" width="6.60" height="6.60"/><rect x="878.17" y="571.20" width="6.60" height="6.60"/><rect x="893.02" y="571.20" width="6.60" height="6.60"/><rect x="907.86" y="571.20" width="6.60" height="6.60"/><rect x="31.95" y="585.75" width="6.60" height="6.60"/><rect x="46.80" y="585.75" width="6.60" height="6.60"/><rect x="61.64" y="585.75" width="6.60" height="6.60"/><rect x="76.49" y="585.75" width="6.60" height="6.60"/><rect x="91.33" y="585.75" width="6.60" height="6.60"/><rect x="106.18" y="585.75" width="6.60" height="6.60"/><rect x="121.03" y="585.75" width="6.60" height="6.60"/><rect x="135.87" y="585.75" width="6.60" height="6.60"/><rect x="150.72" y="585.75" width="6.60" height="6.60"/><rect x="165.56" y="585.75" width="6.60" height="6.60"/><rect x="180.41" y="585.75" width="6.60" height="6.60"/><rect x="195.26" y="585.75" width="6.60" height="6.60"/><rect x="210.10" y="585.75" width="6.60" height="6.60"/><rect x="224.95" y="585.75" width="6.60" height="6.60"/><rect x="239.79" y="585.75" width="6.60" height="6.60"/><rect x="254.64" y="585.75" width="6.60" height="6.60"/><rect x="269.49" y="585.75" width="6.60" height="6.60"/><rect x="284.33" y="585.75" width="6.60" height="6.60"/><rect x="299.18" y="585.75" width="6.60" height="6.60"/><rect x="314.02" y="585.75" width="6.60" height="6.60"/><rect x="328.87" y="585.75" width="6.60" height="6.60"/><rect x="343.72" y="585.75" width="6.60" height="6.60"/><rect x="358.56" y="585.75" width="6.60" height="6.60"/><rect x="373.41" y="585.75" width="6.60" height="6.60"/><rect x="388.25" y="585.75" width="6.60" height="6.60"/><rect x="403.10" y="585.75" width="6.60" height="6.60"/><rect x="417.95" y="585.75" width="6.60" height="6.60"/><rect x="432.79" y="585.75" width="6.60" height="6.60"/><rect x="447.64" y="585.75" width="6.60" height="6.60"/><rect x="462.48" y="585.75" width="6.60" height="6.60"/><rect x="477.33" y="585.75" width="6.60" height="6.60"/><rect x="492.18" y="585.75" width="6.60" height="6.60"/><rect x="507.02" y="585.75" width="6.60" height="6.60"/><rect x="521.87" y="585.75" width="6.60" height="6.60"/><rect x="536.71" y="585.75" width="6.60" height="6.60"/><rect x="551.56" y="585.75" width="6.60" height="6.60"/><rect x="566.41" y="585.75" width="6.60" height="6.60"/><rect x="581.25" y="585.75" width="6.60" height="6.60"/><rect x="596.10" y="585.75" width="6.60" height="6.60"/><rect x="610.94" y="585.75" width="6.60" height="6.60"/><rect x="625.79" y="585.75" width="6.60" height="6.60"/><rect x="640.64" y="585.75" width="6.60" height="6.60"/><rect x="655.48" y="585.75" width="6.60" height="6.60"/><rect x="670.33" y="585.75" width="6.60" height="6.60"/><rect x="685.17" y="585.75" width="6.60" height="6.60"/><rect x="700.02" y="585.75" width="6.60" height="6.60"/><rect x="714.87" y="585.75" width="6.60" height="6.60"/><rect x="729.71" y="585.75" width="6.60" height="6.60"/><rect x="744.56" y="585.75" width="6.60" height="6.60"/><rect x="759.40" y="585.75" width="6.60" height="6.60"/><rect x="774.25" y="585.75" width="6.60" height="6.60"/><rect x="789.10" y="585.75" width="6.60" height="6.60"/><rect x="803.94" y="585.75" width="6.60" height="6.60"/><rect x="818.79" y="585.75" width="6.60" height="6.60"/><rect x="833.63" y="585.75" width="6.60" height="6.60"/><rect x="848.48" y="585.75" width="6.60" height="6.60"/><rect x="863.33" y="585.75" width="6.60" height="6.60"/><rect x="878.17" y="585.75" width="6.60" height="6.60"/><rect x="893.02" y="585.75" width="6.60" height="6.60"/><rect x="907.86" y="585.75" width="6.60" height="6.60"/></g></svg>
<span style="left:32.42px;top:28.79px;font-size:34.5px;font-weight:bold;color:#111;-webkit-text-stroke:0.45px #111;transform:scaleX(0.8842)">Of</span>
<span style="left:75.52px;top:28.79px;font-size:34.5px;font-weight:bold;color:#7b7b7b;transform:scaleX(0.9803)">1,451,441</span>
<span style="left:237.00px;top:28.79px;font-size:34.5px;font-weight:bold;color:#111;-webkit-text-stroke:0.45px #111;transform:scaleX(0.8637)">felony</span>
<span style="left:335.60px;top:28.79px;font-size:34.5px;font-weight:bold;color:#111;-webkit-text-stroke:0.45px #111;transform:scaleX(0.8687)">arrests</span>
<span style="left:445.82px;top:28.79px;font-size:34.5px;font-weight:bold;color:#111;-webkit-text-stroke:0.45px #111;transform:scaleX(0.7821)">in</span>
<span style="left:481.13px;top:28.79px;font-size:34.5px;font-weight:bold;color:#111;-webkit-text-stroke:0.45px #111;transform:scaleX(0.8660)">California</span>
<span style="left:630.20px;top:28.79px;font-size:34.5px;font-weight:bold;color:#111;-webkit-text-stroke:0.45px #111;transform:scaleX(0.8632)">from</span>
<span style="left:707.20px;top:28.79px;font-size:34.5px;font-weight:bold;color:#111;transform:scaleX(0.9600)">2011</span>
<span style="left:792.50px;top:28.79px;font-size:34.5px;font-weight:bold;color:#111;-webkit-text-stroke:0.45px #111;transform:scaleX(0.8842)">–</span>
<span style="left:818.20px;top:28.79px;font-size:34.5px;font-weight:bold;color:#111;transform:scaleX(0.9965)">2015,</span>
<span style="left:33.30px;top:70.79px;font-size:34.5px;font-weight:bold;color:#174fd0;transform:scaleX(0.9927)">459,847</span>
<span style="left:167.38px;top:70.79px;font-size:34.5px;font-weight:bold;color:#111;-webkit-text-stroke:0.45px #111;transform:scaleX(0.8759)">were</span>
<span style="left:244.33px;top:70.79px;font-size:34.5px;font-weight:bold;color:#174fd0;-webkit-text-stroke:0.45px #174fd0;transform:scaleX(0.8679)">not</span>
<span style="left:300.18px;top:70.79px;font-size:34.5px;font-weight:bold;color:#174fd0;-webkit-text-stroke:0.45px #174fd0;transform:scaleX(0.9231)">guilty</span>
<span style="left:393.91px;top:70.79px;font-size:34.5px;font-weight:bold;color:#111;-webkit-text-stroke:0.45px #111;transform:scaleX(0.7879)">of</span>
<span style="left:429.50px;top:70.79px;font-size:34.5px;font-weight:bold;color:#111;-webkit-text-stroke:0.45px #111;transform:scaleX(0.8733)">any</span>
<span style="left:489.51px;top:70.79px;font-size:34.5px;font-weight:bold;color:#111;-webkit-text-stroke:0.45px #111;transform:scaleX(0.8909)">crime.</span>
<span style="left:33.09px;top:135.59px;font-size:26px;color:#111;-webkit-text-stroke:0.3px #111;transform:scaleX(0.9053)">Nearly</span>
<span style="left:108.83px;top:135.59px;font-size:26px;color:#111;-webkit-text-stroke:0.3px #111;transform:scaleX(0.9690)">half</span>
<span style="left:156.15px;top:135.59px;font-size:26px;color:#111;-webkit-text-stroke:0.3px #111;transform:scaleX(0.7594)">a</span>
<span style="left:175.02px;top:135.59px;font-size:26px;color:#111;-webkit-text-stroke:0.3px #111;transform:scaleX(0.9994)">million</span>
<span style="left:256.06px;top:135.59px;font-size:26px;color:#111;-webkit-text-stroke:0.3px #111;transform:scaleX(0.9390)">people</span>
<span style="left:336.30px;top:135.59px;font-size:26px;color:#111;-webkit-text-stroke:0.3px #111;transform:scaleX(0.9143)">were</span>
<span style="left:395.33px;top:135.59px;font-size:26px;font-weight:bold;color:#174fd0;transform:scaleX(0.8654)">locked</span>
<span style="left:474.16px;top:135.59px;font-size:26px;font-weight:bold;color:#174fd0;transform:scaleX(0.8381)">in</span>
<span style="left:500.63px;top:135.59px;font-size:26px;font-weight:bold;color:#174fd0;transform:scaleX(0.9270)">jail</span>
<span style="left:540.50px;top:135.59px;font-size:26px;font-weight:bold;color:#174fd0;transform:scaleX(0.8257)">for</span>
<span style="left:576.20px;top:135.59px;font-size:26px;font-weight:bold;color:#174fd0;transform:scaleX(0.8661)">days</span>
<span style="left:634.60px;top:135.59px;font-size:26px;color:#111;-webkit-text-stroke:0.3px #111;transform:scaleX(0.8417)">or</span>
<span style="left:662.62px;top:135.59px;font-size:26px;font-weight:bold;color:#174fd0;transform:scaleX(0.8769)">paid</span>
<span style="left:716.22px;top:135.59px;font-size:26px;font-weight:bold;color:#174fd0;transform:scaleX(0.8819)">money</span>
<span style="left:796.60px;top:135.59px;font-size:26px;font-weight:bold;color:#174fd0;transform:scaleX(0.8457)">for</span>
<span style="left:832.18px;top:135.59px;font-size:26px;font-weight:bold;color:#174fd0;transform:scaleX(0.9209)">bail</span>
<span style="left:32.70px;top:166.49px;font-size:26px;color:#111;-webkit-text-stroke:0.3px #111;transform:scaleX(0.9928)">without</span>
<span style="left:122.60px;top:166.49px;font-size:26px;color:#111;-webkit-text-stroke:0.3px #111;transform:scaleX(0.8706)">ever</span>
<span style="left:174.15px;top:166.49px;font-size:26px;color:#111;-webkit-text-stroke:0.3px #111;transform:scaleX(0.9548)">being</span>
<span style="left:242.40px;top:166.49px;font-size:26px;color:#111;-webkit-text-stroke:0.3px #111;transform:scaleX(0.9440)">convicted</span>
<span style="left:353.20px;top:166.49px;font-size:26px;color:#111;-webkit-text-stroke:0.3px #111;transform:scaleX(0.9261)">of</span>
<span style="left:379.03px;top:166.49px;font-size:26px;color:#111;-webkit-text-stroke:0.3px #111;transform:scaleX(0.8162)">a</span>
<span style="left:398.60px;top:166.49px;font-size:26px;color:#111;-webkit-text-stroke:0.3px #111;transform:scaleX(0.9362)">crime.</span>
<span style="left:795.40px;top:206.67px;font-size:12.2px;font-weight:bold;color:#979797;transform:scaleX(1.0613)">1,000</span>
<span style="left:832.90px;top:206.67px;font-size:12.2px;font-weight:bold;color:#979797;transform:scaleX(1.0250)">felony</span>
<span style="left:873.50px;top:206.67px;font-size:12.2px;font-weight:bold;color:#979797;transform:scaleX(0.9829)">arrests</span>
<div class="sq"></div>
</body></html>
